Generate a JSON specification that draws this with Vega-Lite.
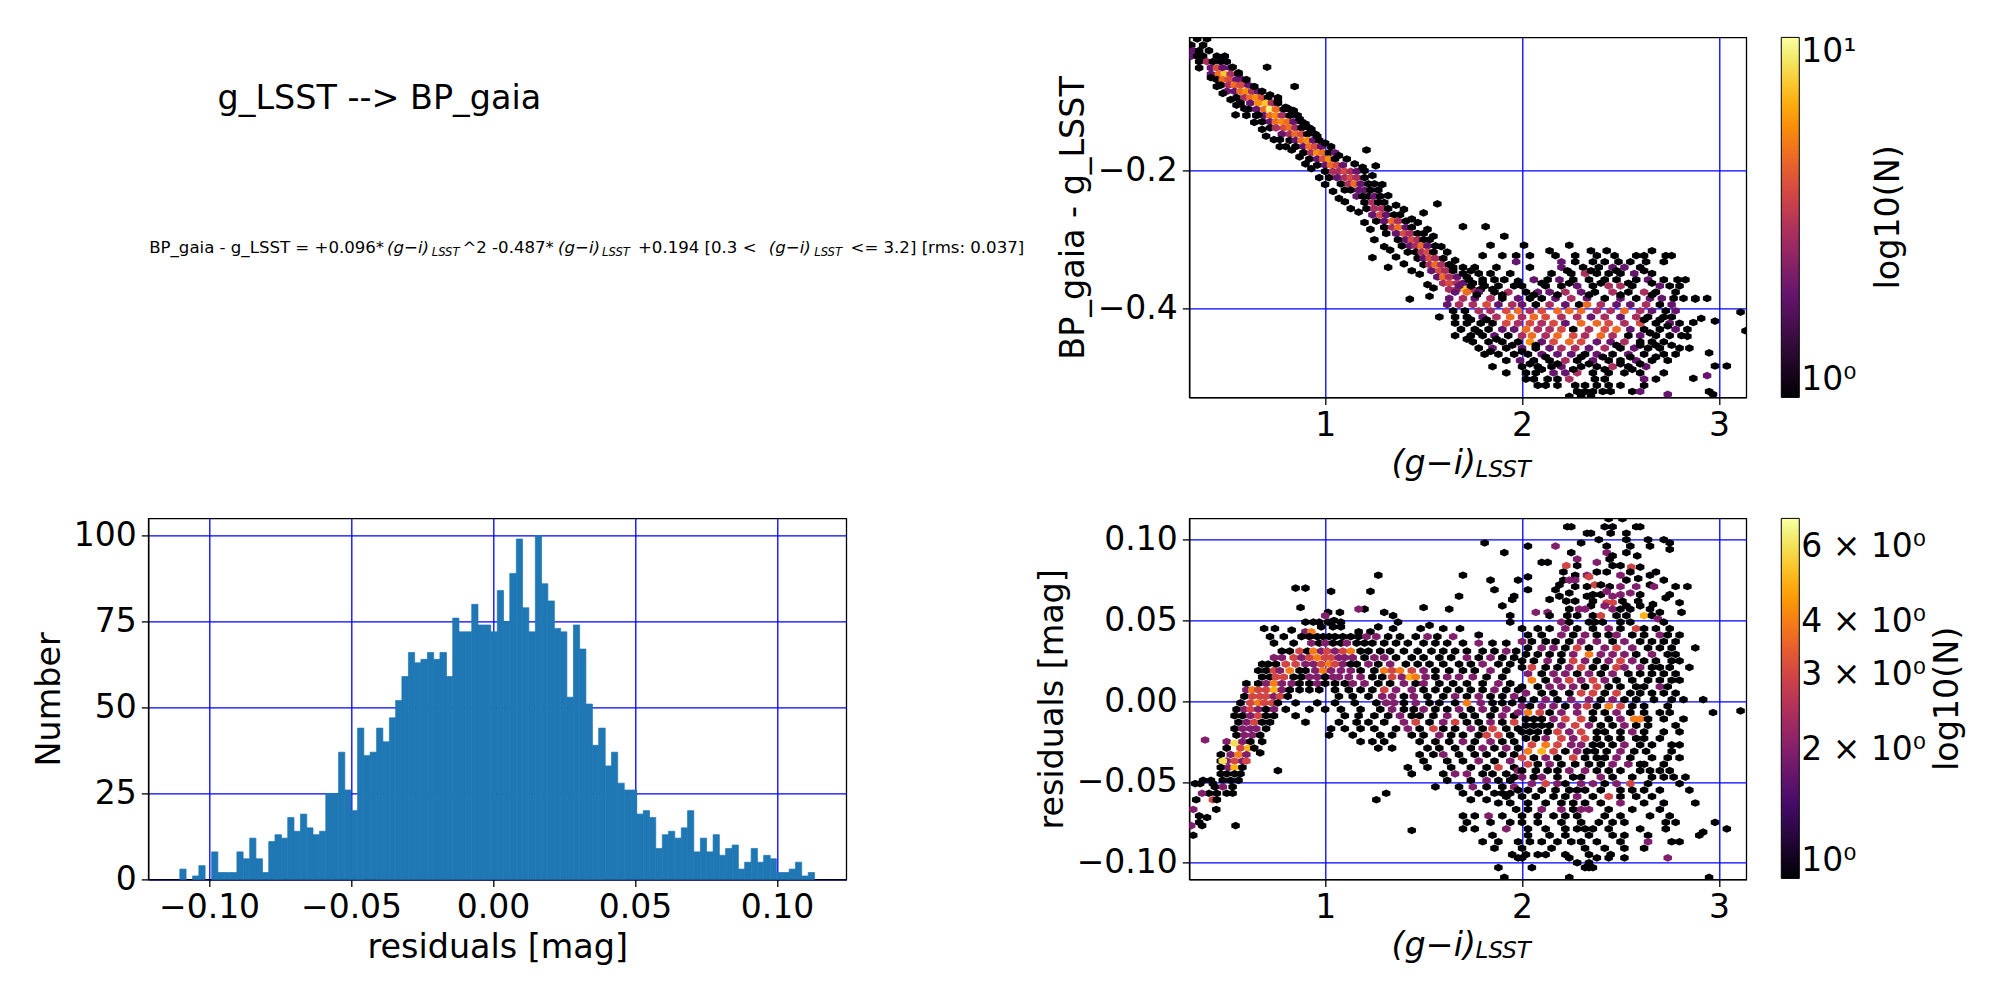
{"$schema":"https://vega.github.io/schema/vega-lite/v6.json","background":"white","padding":{"left":31.3,"top":36.4,"right":0,"bottom":0},"bounds":"flush","columns":2,"spacing":{"row":121,"column":343},"config":{"font":"DejaVu Sans","view":{"stroke":"black","strokeWidth":1.3},"axis":{"labelFontSize":33,"titleFontSize":33.4,"titleFontWeight":"normal","labelColor":"black","titleColor":"black","tickColor":"black","tickSize":7,"tickWidth":1.3,"domainColor":"black","domainWidth":1.3,"grid":true,"gridColor":"#0000ff","gridWidth":1.3,"gridOpacity":1,"labelPadding":5,"titlePadding":7,"zindex":1,"labelFlush":false,"labelOverlap":false},"legend":{"labelFontSize":33,"labelColor":"black","gradientLength":360,"gradientThickness":18,"gradientStrokeColor":"black","gradientStrokeWidth":1,"labelOverlap":false,"offset":35,"labelOffset":8}},"resolve":{"scale":{"color":"independent"}},"concat":[{"width":698,"height":360,"view":{"stroke":null},"data":{"values":[{"label":"g_LSST --> BP_gaia"}]},"encoding":{"y":{"datum":0.4008,"scale":{"domain":[0,1]},"axis":null}},"layer":[{"mark":{"type":"text","fontSize":33.4,"align":"center","baseline":"alphabetic","clip":false},"encoding":{"x":{"datum":0.331,"scale":{"domain":[0,1]},"axis":null},"y":{"datum":0.8,"scale":{"domain":[0,1]},"axis":null},"text":{"field":"label"}}},{"mark":{"type":"text","fontSize":16.6,"align":"left","baseline":"alphabetic","clip":false},"encoding":{"x":{"datum":0.0013,"scale":{"domain":[0,1]},"axis":null},"text":{"value":"BP_gaia - g_LSST = +0.096*"}}},{"mark":{"type":"text","fontSize":16.6,"fontStyle":"italic","align":"left","baseline":"alphabetic","clip":false},"encoding":{"x":{"datum":0.342,"scale":{"domain":[0,1]},"axis":null},"text":{"value":"(g−i)"}}},{"mark":{"type":"text","fontSize":11.6,"fontStyle":"italic","align":"left","baseline":"alphabetic","dy":2.5,"clip":false},"encoding":{"x":{"datum":0.406,"scale":{"domain":[0,1]},"axis":null},"text":{"value":"LSST"}}},{"mark":{"type":"text","fontSize":16.6,"align":"left","baseline":"alphabetic","clip":false},"encoding":{"x":{"datum":0.45,"scale":{"domain":[0,1]},"axis":null},"text":{"value":"^2 -0.487*"}}},{"mark":{"type":"text","fontSize":16.6,"fontStyle":"italic","align":"left","baseline":"alphabetic","clip":false},"encoding":{"x":{"datum":0.587,"scale":{"domain":[0,1]},"axis":null},"text":{"value":"(g−i)"}}},{"mark":{"type":"text","fontSize":11.6,"fontStyle":"italic","align":"left","baseline":"alphabetic","dy":2.5,"clip":false},"encoding":{"x":{"datum":0.65,"scale":{"domain":[0,1]},"axis":null},"text":{"value":"LSST"}}},{"mark":{"type":"text","fontSize":16.6,"align":"left","baseline":"alphabetic","clip":false},"encoding":{"x":{"datum":0.7015,"scale":{"domain":[0,1]},"axis":null},"text":{"value":"+0.194  [0.3 <"}}},{"mark":{"type":"text","fontSize":16.6,"fontStyle":"italic","align":"left","baseline":"alphabetic","clip":false},"encoding":{"x":{"datum":0.889,"scale":{"domain":[0,1]},"axis":null},"text":{"value":"(g−i)"}}},{"mark":{"type":"text","fontSize":11.6,"fontStyle":"italic","align":"left","baseline":"alphabetic","dy":2.5,"clip":false},"encoding":{"x":{"datum":0.954,"scale":{"domain":[0,1]},"axis":null},"text":{"value":"LSST"}}},{"mark":{"type":"text","fontSize":16.6,"align":"left","baseline":"alphabetic","clip":false},"encoding":{"x":{"datum":1.006,"scale":{"domain":[0,1]},"axis":null},"text":{"value":"<= 3.2]  [rms: 0.037]"}}}]},{"width":557,"height":360,"layer":[{"data":{"values":[{"x":0.35,"y":-0.009,"n":1},{"x":0.4,"y":-0.009,"n":1},{"x":0.32,"y":-0.018,"n":1},{"x":0.38,"y":-0.018,"n":1},{"x":0.33,"y":-0.026,"n":2},{"x":0.36,"y":-0.026,"n":1},{"x":0.41,"y":-0.026,"n":1},{"x":0.32,"y":-0.034,"n":2},{"x":0.35,"y":-0.034,"n":1},{"x":0.38,"y":-0.034,"n":1},{"x":0.45,"y":-0.034,"n":1},{"x":0.49,"y":-0.034,"n":1},{"x":0.36,"y":-0.042,"n":1},{"x":0.4,"y":-0.042,"n":3},{"x":0.43,"y":-0.042,"n":1},{"x":0.47,"y":-0.042,"n":1},{"x":0.5,"y":-0.042,"n":1},{"x":0.36,"y":-0.051,"n":1},{"x":0.42,"y":-0.051,"n":2},{"x":0.45,"y":-0.051,"n":4},{"x":0.48,"y":-0.051,"n":2},{"x":0.52,"y":-0.051,"n":2},{"x":0.42,"y":-0.06,"n":2},{"x":0.46,"y":-0.06,"n":5},{"x":0.49,"y":-0.06,"n":8},{"x":0.52,"y":-0.06,"n":3},{"x":0.56,"y":-0.06,"n":1},{"x":0.45,"y":-0.068,"n":1},{"x":0.48,"y":-0.068,"n":5},{"x":0.51,"y":-0.068,"n":4},{"x":0.55,"y":-0.068,"n":2},{"x":0.58,"y":-0.068,"n":2},{"x":0.47,"y":-0.076,"n":1},{"x":0.51,"y":-0.076,"n":3},{"x":0.54,"y":-0.076,"n":5},{"x":0.57,"y":-0.076,"n":4},{"x":0.61,"y":-0.076,"n":2},{"x":0.5,"y":-0.085,"n":2},{"x":0.54,"y":-0.085,"n":2},{"x":0.57,"y":-0.085,"n":5},{"x":0.6,"y":-0.085,"n":6},{"x":0.63,"y":-0.085,"n":3},{"x":0.66,"y":-0.085,"n":2},{"x":0.55,"y":-0.094,"n":1},{"x":0.59,"y":-0.094,"n":3},{"x":0.62,"y":-0.094,"n":5},{"x":0.65,"y":-0.094,"n":6},{"x":0.68,"y":-0.094,"n":4},{"x":0.71,"y":-0.094,"n":1},{"x":0.76,"y":-0.094,"n":1},{"x":0.57,"y":-0.102,"n":1},{"x":0.62,"y":-0.102,"n":2},{"x":0.66,"y":-0.102,"n":6},{"x":0.7,"y":-0.102,"n":8},{"x":0.73,"y":-0.102,"n":3},{"x":0.76,"y":-0.102,"n":1},{"x":0.61,"y":-0.111,"n":1},{"x":0.65,"y":-0.111,"n":2},{"x":0.69,"y":-0.111,"n":5},{"x":0.72,"y":-0.111,"n":10},{"x":0.75,"y":-0.111,"n":5},{"x":0.79,"y":-0.111,"n":1},{"x":0.82,"y":-0.111,"n":1},{"x":0.65,"y":-0.12,"n":1},{"x":0.69,"y":-0.12,"n":2},{"x":0.72,"y":-0.12,"n":5},{"x":0.75,"y":-0.12,"n":6},{"x":0.78,"y":-0.12,"n":3},{"x":0.82,"y":-0.12,"n":1},{"x":0.86,"y":-0.12,"n":1},{"x":0.68,"y":-0.129,"n":1},{"x":0.72,"y":-0.129,"n":2},{"x":0.75,"y":-0.129,"n":5},{"x":0.78,"y":-0.129,"n":6},{"x":0.81,"y":-0.129,"n":5},{"x":0.84,"y":-0.129,"n":2},{"x":0.88,"y":-0.129,"n":1},{"x":0.72,"y":-0.138,"n":1},{"x":0.75,"y":-0.138,"n":3},{"x":0.79,"y":-0.138,"n":4},{"x":0.82,"y":-0.138,"n":5},{"x":0.85,"y":-0.138,"n":3},{"x":0.88,"y":-0.138,"n":1},{"x":0.92,"y":-0.138,"n":1},{"x":0.78,"y":-0.147,"n":2},{"x":0.82,"y":-0.147,"n":3},{"x":0.85,"y":-0.147,"n":5},{"x":0.88,"y":-0.147,"n":4},{"x":0.91,"y":-0.147,"n":1},{"x":0.95,"y":-0.147,"n":1},{"x":0.82,"y":-0.156,"n":1},{"x":0.85,"y":-0.156,"n":2},{"x":0.88,"y":-0.156,"n":5},{"x":0.91,"y":-0.156,"n":6},{"x":0.94,"y":-0.156,"n":2},{"x":0.97,"y":-0.156,"n":1},{"x":0.85,"y":-0.165,"n":1},{"x":0.89,"y":-0.165,"n":2},{"x":0.92,"y":-0.165,"n":5},{"x":0.95,"y":-0.165,"n":4},{"x":0.98,"y":-0.165,"n":2},{"x":0.89,"y":-0.174,"n":1},{"x":0.93,"y":-0.174,"n":3},{"x":0.96,"y":-0.174,"n":6},{"x":0.99,"y":-0.174,"n":5},{"x":1.02,"y":-0.174,"n":1},{"x":1.05,"y":-0.174,"n":2},{"x":0.92,"y":-0.183,"n":1},{"x":0.96,"y":-0.183,"n":2},{"x":0.99,"y":-0.183,"n":4},{"x":1.02,"y":-0.183,"n":6},{"x":1.05,"y":-0.183,"n":1},{"x":0.96,"y":-0.192,"n":1},{"x":1.0,"y":-0.192,"n":2},{"x":1.03,"y":-0.192,"n":5},{"x":1.06,"y":-0.192,"n":4},{"x":1.09,"y":-0.192,"n":2},{"x":1.0,"y":-0.201,"n":1},{"x":1.04,"y":-0.201,"n":3},{"x":1.07,"y":-0.201,"n":3},{"x":1.1,"y":-0.201,"n":4},{"x":1.13,"y":-0.201,"n":3},{"x":1.16,"y":-0.201,"n":2},{"x":1.02,"y":-0.21,"n":1},{"x":1.06,"y":-0.21,"n":2},{"x":1.1,"y":-0.21,"n":3},{"x":1.13,"y":-0.21,"n":4},{"x":1.16,"y":-0.21,"n":3},{"x":1.2,"y":-0.21,"n":1},{"x":1.08,"y":-0.219,"n":1},{"x":1.12,"y":-0.219,"n":3},{"x":1.15,"y":-0.219,"n":5},{"x":1.18,"y":-0.219,"n":2},{"x":1.22,"y":-0.219,"n":1},{"x":1.25,"y":-0.219,"n":1},{"x":1.1,"y":-0.228,"n":1},{"x":1.13,"y":-0.228,"n":1},{"x":1.17,"y":-0.228,"n":2},{"x":1.2,"y":-0.228,"n":2},{"x":1.23,"y":-0.228,"n":1},{"x":1.27,"y":-0.228,"n":1},{"x":1.16,"y":-0.237,"n":2},{"x":1.19,"y":-0.237,"n":1},{"x":1.22,"y":-0.237,"n":1},{"x":1.25,"y":-0.237,"n":2},{"x":1.28,"y":-0.237,"n":1},{"x":1.2,"y":-0.246,"n":1},{"x":1.24,"y":-0.246,"n":3},{"x":1.27,"y":-0.246,"n":1},{"x":1.3,"y":-0.246,"n":1},{"x":1.21,"y":-0.255,"n":1},{"x":1.25,"y":-0.255,"n":3},{"x":1.29,"y":-0.255,"n":3},{"x":1.32,"y":-0.255,"n":1},{"x":1.24,"y":-0.264,"n":2},{"x":1.28,"y":-0.264,"n":4},{"x":1.31,"y":-0.264,"n":2},{"x":1.35,"y":-0.264,"n":1},{"x":1.38,"y":-0.264,"n":1},{"x":1.26,"y":-0.273,"n":1},{"x":1.3,"y":-0.273,"n":2},{"x":1.34,"y":-0.273,"n":5},{"x":1.37,"y":-0.273,"n":3},{"x":1.41,"y":-0.273,"n":1},{"x":1.3,"y":-0.282,"n":1},{"x":1.34,"y":-0.282,"n":3},{"x":1.37,"y":-0.282,"n":5},{"x":1.41,"y":-0.282,"n":2},{"x":1.44,"y":-0.282,"n":1},{"x":1.31,"y":-0.291,"n":1},{"x":1.36,"y":-0.291,"n":2},{"x":1.4,"y":-0.291,"n":4},{"x":1.43,"y":-0.291,"n":3},{"x":1.47,"y":-0.291,"n":1},{"x":1.5,"y":-0.291,"n":1},{"x":1.37,"y":-0.3,"n":1},{"x":1.41,"y":-0.3,"n":2},{"x":1.44,"y":-0.3,"n":4},{"x":1.47,"y":-0.3,"n":3},{"x":1.5,"y":-0.3,"n":1},{"x":1.53,"y":-0.3,"n":1},{"x":1.39,"y":-0.309,"n":1},{"x":1.43,"y":-0.309,"n":2},{"x":1.46,"y":-0.309,"n":3},{"x":1.49,"y":-0.309,"n":5},{"x":1.52,"y":-0.309,"n":2},{"x":1.56,"y":-0.309,"n":1},{"x":1.42,"y":-0.318,"n":1},{"x":1.46,"y":-0.318,"n":1},{"x":1.49,"y":-0.318,"n":3},{"x":1.52,"y":-0.318,"n":4},{"x":1.55,"y":-0.318,"n":1},{"x":1.47,"y":-0.327,"n":1},{"x":1.5,"y":-0.327,"n":2},{"x":1.53,"y":-0.327,"n":4},{"x":1.56,"y":-0.327,"n":3},{"x":1.6,"y":-0.327,"n":1},{"x":1.5,"y":-0.336,"n":1},{"x":1.53,"y":-0.336,"n":3},{"x":1.56,"y":-0.336,"n":5},{"x":1.59,"y":-0.336,"n":3},{"x":1.63,"y":-0.336,"n":1},{"x":1.54,"y":-0.345,"n":2},{"x":1.58,"y":-0.345,"n":4},{"x":1.61,"y":-0.345,"n":3},{"x":1.65,"y":-0.345,"n":1},{"x":1.57,"y":-0.354,"n":2},{"x":1.6,"y":-0.354,"n":5},{"x":1.63,"y":-0.354,"n":3},{"x":1.67,"y":-0.354,"n":2},{"x":1.72,"y":-0.354,"n":1},{"x":1.6,"y":-0.363,"n":3},{"x":1.63,"y":-0.363,"n":4},{"x":1.67,"y":-0.363,"n":3},{"x":1.7,"y":-0.363,"n":2},{"x":1.75,"y":-0.363,"n":1},{"x":1.8,"y":-0.363,"n":1},{"x":1.63,"y":-0.372,"n":3},{"x":1.67,"y":-0.372,"n":3},{"x":1.71,"y":-0.372,"n":8},{"x":1.75,"y":-0.372,"n":3},{"x":1.79,"y":-0.372,"n":1},{"x":1.85,"y":-0.372,"n":1},{"x":0.53,"y":-0.05,"n":1},{"x":0.56,"y":-0.058,"n":1},{"x":0.6,"y":-0.068,"n":1},{"x":0.64,"y":-0.078,"n":1},{"x":0.68,"y":-0.085,"n":1},{"x":0.72,"y":-0.09,"n":1},{"x":0.76,"y":-0.1,"n":1},{"x":0.8,"y":-0.108,"n":1},{"x":0.84,"y":-0.113,"n":1},{"x":0.87,"y":-0.125,"n":1},{"x":0.9,"y":-0.132,"n":1},{"x":0.93,"y":-0.14,"n":1},{"x":0.96,"y":-0.15,"n":1},{"x":1.0,"y":-0.16,"n":1},{"x":1.03,"y":-0.165,"n":1},{"x":1.07,"y":-0.178,"n":1},{"x":1.11,"y":-0.183,"n":1},{"x":1.15,"y":-0.19,"n":1},{"x":1.19,"y":-0.195,"n":1},{"x":1.2,"y":-0.2,"n":1},{"x":1.24,"y":-0.207,"n":1},{"x":1.29,"y":-0.22,"n":1},{"x":1.32,"y":-0.236,"n":1},{"x":1.36,"y":-0.25,"n":1},{"x":1.4,"y":-0.256,"n":1},{"x":1.44,"y":-0.27,"n":1},{"x":1.47,"y":-0.275,"n":1},{"x":1.52,"y":-0.285,"n":1},{"x":1.55,"y":-0.295,"n":1},{"x":1.59,"y":-0.31,"n":1},{"x":1.62,"y":-0.318,"n":1},{"x":1.66,"y":-0.33,"n":1},{"x":1.7,"y":-0.34,"n":1},{"x":1.74,"y":-0.345,"n":1},{"x":0.42,"y":-0.065,"n":1},{"x":0.45,"y":-0.078,"n":1},{"x":0.48,"y":-0.088,"n":1},{"x":0.52,"y":-0.097,"n":1},{"x":0.55,"y":-0.105,"n":1},{"x":0.59,"y":-0.11,"n":1},{"x":0.6,"y":-0.12,"n":1},{"x":0.64,"y":-0.13,"n":1},{"x":0.68,"y":-0.14,"n":1},{"x":0.7,"y":-0.15,"n":1},{"x":0.74,"y":-0.155,"n":1},{"x":0.77,"y":-0.155,"n":1},{"x":0.8,"y":-0.165,"n":1},{"x":0.83,"y":-0.17,"n":1},{"x":0.87,"y":-0.18,"n":1},{"x":0.9,"y":-0.19,"n":1},{"x":0.93,"y":-0.197,"n":1},{"x":0.97,"y":-0.21,"n":1},{"x":1.0,"y":-0.22,"n":1},{"x":1.04,"y":-0.23,"n":1},{"x":1.07,"y":-0.24,"n":1},{"x":1.1,"y":-0.245,"n":1},{"x":1.13,"y":-0.255,"n":1},{"x":1.17,"y":-0.26,"n":1},{"x":1.2,"y":-0.275,"n":1},{"x":1.23,"y":-0.285,"n":1},{"x":1.25,"y":-0.3,"n":1},{"x":1.3,"y":-0.31,"n":1},{"x":1.33,"y":-0.315,"n":1},{"x":1.36,"y":-0.325,"n":1},{"x":1.4,"y":-0.335,"n":1},{"x":1.44,"y":-0.345,"n":1},{"x":1.48,"y":-0.35,"n":1},{"x":1.52,"y":-0.365,"n":1},{"x":1.55,"y":-0.37,"n":1},{"x":1.84,"y":-0.308,"n":1},{"x":2.01,"y":-0.308,"n":1},{"x":2.24,"y":-0.308,"n":1},{"x":2.14,"y":-0.316,"n":1},{"x":2.35,"y":-0.316,"n":1},{"x":2.43,"y":-0.316,"n":1},{"x":2.66,"y":-0.316,"n":1},{"x":1.8,"y":-0.323,"n":1},{"x":1.9,"y":-0.323,"n":1},{"x":1.97,"y":-0.323,"n":1},{"x":2.04,"y":-0.323,"n":1},{"x":2.17,"y":-0.323,"n":1},{"x":2.27,"y":-0.323,"n":1},{"x":2.38,"y":-0.323,"n":1},{"x":2.47,"y":-0.323,"n":1},{"x":2.58,"y":-0.323,"n":1},{"x":2.62,"y":-0.323,"n":1},{"x":2.73,"y":-0.323,"n":1},{"x":2.76,"y":-0.323,"n":1},{"x":1.97,"y":-0.332,"n":2},{"x":2.2,"y":-0.332,"n":2},{"x":2.27,"y":-0.332,"n":1},{"x":2.36,"y":-0.332,"n":1},{"x":2.42,"y":-0.332,"n":1},{"x":2.49,"y":-0.332,"n":1},{"x":2.55,"y":-0.332,"n":1},{"x":2.63,"y":-0.332,"n":1},{"x":2.72,"y":-0.332,"n":1},{"x":1.65,"y":-0.34,"n":1},{"x":1.76,"y":-0.34,"n":1},{"x":1.87,"y":-0.34,"n":1},{"x":2.04,"y":-0.34,"n":1},{"x":2.2,"y":-0.34,"n":2},{"x":2.31,"y":-0.34,"n":1},{"x":2.39,"y":-0.34,"n":1},{"x":2.46,"y":-0.34,"n":2},{"x":2.52,"y":-0.34,"n":2},{"x":2.6,"y":-0.34,"n":1},{"x":1.7,"y":-0.349,"n":1},{"x":1.78,"y":-0.349,"n":1},{"x":1.84,"y":-0.349,"n":1},{"x":1.94,"y":-0.349,"n":1},{"x":2.15,"y":-0.349,"n":1},{"x":2.25,"y":-0.349,"n":1},{"x":2.32,"y":-0.349,"n":3},{"x":2.38,"y":-0.349,"n":1},{"x":2.44,"y":-0.349,"n":1},{"x":2.5,"y":-0.349,"n":1},{"x":2.57,"y":-0.349,"n":2},{"x":2.66,"y":-0.349,"n":1},{"x":1.73,"y":-0.358,"n":1},{"x":1.8,"y":-0.358,"n":1},{"x":1.86,"y":-0.358,"n":1},{"x":1.91,"y":-0.358,"n":1},{"x":2.06,"y":-0.358,"n":2},{"x":2.13,"y":-0.358,"n":1},{"x":2.19,"y":-0.358,"n":2},{"x":2.26,"y":-0.358,"n":1},{"x":2.34,"y":-0.358,"n":1},{"x":2.42,"y":-0.358,"n":1},{"x":2.48,"y":-0.358,"n":1},{"x":2.58,"y":-0.358,"n":1},{"x":2.64,"y":-0.358,"n":2},{"x":2.72,"y":-0.358,"n":1},{"x":2.79,"y":-0.358,"n":1},{"x":2.83,"y":-0.358,"n":1},{"x":1.68,"y":-0.367,"n":2},{"x":1.74,"y":-0.367,"n":1},{"x":1.81,"y":-0.367,"n":1},{"x":1.88,"y":-0.367,"n":1},{"x":1.96,"y":-0.367,"n":1},{"x":2.0,"y":-0.367,"n":1},{"x":2.12,"y":-0.367,"n":1},{"x":2.2,"y":-0.367,"n":1},{"x":2.28,"y":-0.367,"n":2},{"x":2.36,"y":-0.367,"n":1},{"x":2.44,"y":-0.367,"n":3},{"x":2.5,"y":-0.367,"n":3},{"x":2.56,"y":-0.367,"n":1},{"x":2.7,"y":-0.367,"n":2},{"x":2.75,"y":-0.367,"n":1},{"x":2.8,"y":-0.367,"n":1},{"x":1.66,"y":-0.376,"n":2},{"x":1.72,"y":-0.376,"n":5},{"x":1.78,"y":-0.376,"n":2},{"x":1.86,"y":-0.376,"n":1},{"x":1.93,"y":-0.376,"n":3},{"x":2.02,"y":-0.376,"n":1},{"x":2.08,"y":-0.376,"n":2},{"x":2.14,"y":-0.376,"n":2},{"x":2.22,"y":-0.376,"n":3},{"x":2.3,"y":-0.376,"n":2},{"x":2.37,"y":-0.376,"n":1},{"x":2.46,"y":-0.376,"n":3},{"x":2.54,"y":-0.376,"n":1},{"x":2.62,"y":-0.376,"n":3},{"x":2.68,"y":-0.376,"n":1},{"x":2.78,"y":-0.376,"n":1},{"x":1.63,"y":-0.385,"n":2},{"x":1.7,"y":-0.385,"n":3},{"x":1.76,"y":-0.385,"n":2},{"x":1.84,"y":-0.385,"n":3},{"x":1.9,"y":-0.385,"n":1},{"x":1.98,"y":-0.385,"n":2},{"x":2.04,"y":-0.385,"n":1},{"x":2.1,"y":-0.385,"n":1},{"x":2.17,"y":-0.385,"n":2},{"x":2.25,"y":-0.385,"n":3},{"x":2.33,"y":-0.385,"n":2},{"x":2.42,"y":-0.385,"n":1},{"x":2.5,"y":-0.385,"n":2},{"x":2.58,"y":-0.385,"n":1},{"x":2.65,"y":-0.385,"n":2},{"x":2.71,"y":-0.385,"n":2},{"x":2.77,"y":-0.385,"n":1},{"x":2.82,"y":-0.385,"n":1},{"x":2.88,"y":-0.385,"n":1},{"x":2.94,"y":-0.385,"n":1},{"x":1.62,"y":-0.394,"n":2},{"x":1.68,"y":-0.394,"n":3},{"x":1.75,"y":-0.394,"n":3},{"x":1.82,"y":-0.394,"n":4},{"x":1.88,"y":-0.394,"n":2},{"x":1.95,"y":-0.394,"n":3},{"x":2.0,"y":-0.394,"n":2},{"x":2.07,"y":-0.394,"n":1},{"x":2.14,"y":-0.394,"n":3},{"x":2.22,"y":-0.394,"n":2},{"x":2.29,"y":-0.394,"n":1},{"x":2.33,"y":-0.394,"n":5},{"x":2.4,"y":-0.394,"n":3},{"x":2.48,"y":-0.394,"n":2},{"x":2.55,"y":-0.394,"n":2},{"x":2.63,"y":-0.394,"n":3},{"x":2.7,"y":-0.394,"n":1},{"x":2.76,"y":-0.394,"n":2},{"x":1.65,"y":-0.403,"n":1},{"x":1.71,"y":-0.403,"n":1},{"x":1.78,"y":-0.403,"n":3},{"x":1.84,"y":-0.403,"n":3},{"x":1.92,"y":-0.403,"n":4},{"x":1.98,"y":-0.403,"n":5},{"x":2.04,"y":-0.403,"n":3},{"x":2.1,"y":-0.403,"n":4},{"x":2.18,"y":-0.403,"n":5},{"x":2.24,"y":-0.403,"n":5},{"x":2.3,"y":-0.403,"n":5},{"x":2.38,"y":-0.403,"n":3},{"x":2.45,"y":-0.403,"n":3},{"x":2.52,"y":-0.403,"n":5},{"x":2.6,"y":-0.403,"n":3},{"x":2.66,"y":-0.403,"n":2},{"x":2.73,"y":-0.403,"n":1},{"x":2.78,"y":-0.403,"n":2},{"x":3.11,"y":-0.405,"n":1},{"x":1.58,"y":-0.412,"n":1},{"x":1.66,"y":-0.412,"n":1},{"x":1.72,"y":-0.412,"n":1},{"x":1.8,"y":-0.412,"n":2},{"x":1.87,"y":-0.412,"n":3},{"x":1.94,"y":-0.412,"n":5},{"x":2.0,"y":-0.412,"n":3},{"x":2.06,"y":-0.412,"n":5},{"x":2.12,"y":-0.412,"n":4},{"x":2.2,"y":-0.412,"n":3},{"x":2.28,"y":-0.412,"n":3},{"x":2.35,"y":-0.412,"n":2},{"x":2.42,"y":-0.412,"n":3},{"x":2.5,"y":-0.412,"n":2},{"x":2.58,"y":-0.412,"n":3},{"x":2.64,"y":-0.412,"n":1},{"x":2.72,"y":-0.412,"n":1},{"x":2.76,"y":-0.412,"n":1},{"x":2.91,"y":-0.414,"n":1},{"x":1.66,"y":-0.421,"n":1},{"x":1.72,"y":-0.421,"n":1},{"x":1.79,"y":-0.421,"n":1},{"x":1.85,"y":-0.421,"n":1},{"x":1.92,"y":-0.421,"n":4},{"x":1.98,"y":-0.421,"n":3},{"x":2.04,"y":-0.421,"n":4},{"x":2.1,"y":-0.421,"n":3},{"x":2.16,"y":-0.421,"n":4},{"x":2.22,"y":-0.421,"n":2},{"x":2.3,"y":-0.421,"n":5},{"x":2.38,"y":-0.421,"n":5},{"x":2.44,"y":-0.421,"n":4},{"x":2.52,"y":-0.421,"n":3},{"x":2.6,"y":-0.421,"n":4},{"x":2.68,"y":-0.421,"n":1},{"x":2.75,"y":-0.421,"n":2},{"x":2.8,"y":-0.421,"n":1},{"x":2.98,"y":-0.418,"n":1},{"x":1.69,"y":-0.43,"n":1},{"x":1.76,"y":-0.43,"n":1},{"x":1.83,"y":-0.43,"n":1},{"x":1.9,"y":-0.43,"n":2},{"x":1.96,"y":-0.43,"n":2},{"x":2.02,"y":-0.43,"n":5},{"x":2.08,"y":-0.43,"n":3},{"x":2.14,"y":-0.43,"n":3},{"x":2.2,"y":-0.43,"n":4},{"x":2.26,"y":-0.43,"n":1},{"x":2.34,"y":-0.43,"n":3},{"x":2.42,"y":-0.43,"n":4},{"x":2.48,"y":-0.43,"n":5},{"x":2.55,"y":-0.43,"n":2},{"x":2.62,"y":-0.43,"n":1},{"x":2.7,"y":-0.43,"n":1},{"x":2.78,"y":-0.43,"n":2},{"x":2.84,"y":-0.43,"n":1},{"x":3.135,"y":-0.432,"n":1},{"x":1.66,"y":-0.439,"n":1},{"x":1.74,"y":-0.439,"n":1},{"x":1.8,"y":-0.439,"n":1},{"x":1.86,"y":-0.439,"n":2},{"x":1.93,"y":-0.439,"n":1},{"x":2.0,"y":-0.439,"n":3},{"x":2.05,"y":-0.439,"n":5},{"x":2.12,"y":-0.439,"n":3},{"x":2.18,"y":-0.439,"n":5},{"x":2.26,"y":-0.439,"n":4},{"x":2.32,"y":-0.439,"n":3},{"x":2.4,"y":-0.439,"n":5},{"x":2.46,"y":-0.439,"n":3},{"x":2.54,"y":-0.439,"n":1},{"x":2.6,"y":-0.439,"n":2},{"x":2.68,"y":-0.439,"n":1},{"x":2.75,"y":-0.439,"n":1},{"x":2.81,"y":-0.439,"n":1},{"x":1.75,"y":-0.448,"n":1},{"x":1.83,"y":-0.448,"n":1},{"x":1.9,"y":-0.448,"n":1},{"x":1.98,"y":-0.448,"n":1},{"x":2.04,"y":-0.448,"n":6},{"x":2.1,"y":-0.448,"n":2},{"x":2.16,"y":-0.448,"n":4},{"x":2.24,"y":-0.448,"n":5},{"x":2.3,"y":-0.448,"n":4},{"x":2.38,"y":-0.448,"n":2},{"x":2.45,"y":-0.448,"n":2},{"x":2.52,"y":-0.448,"n":3},{"x":2.6,"y":-0.448,"n":1},{"x":2.66,"y":-0.448,"n":1},{"x":2.72,"y":-0.448,"n":1},{"x":1.78,"y":-0.457,"n":1},{"x":1.85,"y":-0.457,"n":2},{"x":1.92,"y":-0.457,"n":1},{"x":2.0,"y":-0.457,"n":2},{"x":2.07,"y":-0.457,"n":1},{"x":2.14,"y":-0.457,"n":2},{"x":2.2,"y":-0.457,"n":3},{"x":2.27,"y":-0.457,"n":3},{"x":2.34,"y":-0.457,"n":2},{"x":2.42,"y":-0.457,"n":3},{"x":2.5,"y":-0.457,"n":1},{"x":2.57,"y":-0.457,"n":2},{"x":2.64,"y":-0.457,"n":1},{"x":2.7,"y":-0.457,"n":1},{"x":2.8,"y":-0.457,"n":1},{"x":2.85,"y":-0.457,"n":1},{"x":1.81,"y":-0.466,"n":1},{"x":1.88,"y":-0.466,"n":1},{"x":1.96,"y":-0.466,"n":1},{"x":2.03,"y":-0.466,"n":1},{"x":2.1,"y":-0.466,"n":2},{"x":2.18,"y":-0.466,"n":2},{"x":2.25,"y":-0.466,"n":2},{"x":2.32,"y":-0.466,"n":1},{"x":2.38,"y":-0.466,"n":2},{"x":2.46,"y":-0.466,"n":1},{"x":2.54,"y":-0.466,"n":2},{"x":2.62,"y":-0.466,"n":1},{"x":2.72,"y":-0.466,"n":1},{"x":2.78,"y":-0.466,"n":1},{"x":2.95,"y":-0.464,"n":1},{"x":1.92,"y":-0.475,"n":1},{"x":1.99,"y":-0.475,"n":2},{"x":2.06,"y":-0.475,"n":1},{"x":2.14,"y":-0.475,"n":1},{"x":2.22,"y":-0.475,"n":3},{"x":2.28,"y":-0.475,"n":1},{"x":2.36,"y":-0.475,"n":2},{"x":2.44,"y":-0.475,"n":1},{"x":2.5,"y":-0.475,"n":1},{"x":2.58,"y":-0.475,"n":2},{"x":2.66,"y":-0.475,"n":1},{"x":2.74,"y":-0.475,"n":1},{"x":1.85,"y":-0.484,"n":1},{"x":2.0,"y":-0.484,"n":1},{"x":2.08,"y":-0.484,"n":1},{"x":2.15,"y":-0.484,"n":1},{"x":2.2,"y":-0.484,"n":2},{"x":2.3,"y":-0.484,"n":1},{"x":2.38,"y":-0.484,"n":1},{"x":2.46,"y":-0.484,"n":3},{"x":2.54,"y":-0.484,"n":1},{"x":2.63,"y":-0.484,"n":2},{"x":2.98,"y":-0.483,"n":1},{"x":3.04,"y":-0.483,"n":1},{"x":1.92,"y":-0.493,"n":1},{"x":2.02,"y":-0.493,"n":1},{"x":2.07,"y":-0.493,"n":1},{"x":2.16,"y":-0.493,"n":2},{"x":2.22,"y":-0.493,"n":2},{"x":2.28,"y":-0.493,"n":3},{"x":2.36,"y":-0.493,"n":1},{"x":2.44,"y":-0.493,"n":1},{"x":2.52,"y":-0.493,"n":1},{"x":2.6,"y":-0.493,"n":1},{"x":2.72,"y":-0.493,"n":1},{"x":2.02,"y":-0.502,"n":1},{"x":2.06,"y":-0.502,"n":1},{"x":2.13,"y":-0.502,"n":1},{"x":2.18,"y":-0.502,"n":1},{"x":2.24,"y":-0.502,"n":3},{"x":2.37,"y":-0.502,"n":1},{"x":2.42,"y":-0.502,"n":1},{"x":2.62,"y":-0.502,"n":2},{"x":2.68,"y":-0.502,"n":1},{"x":2.87,"y":-0.501,"n":1},{"x":2.94,"y":-0.497,"n":2},{"x":2.08,"y":-0.511,"n":1},{"x":2.12,"y":-0.511,"n":1},{"x":2.18,"y":-0.511,"n":1},{"x":2.27,"y":-0.511,"n":1},{"x":2.32,"y":-0.511,"n":1},{"x":2.38,"y":-0.511,"n":1},{"x":2.44,"y":-0.511,"n":1},{"x":2.5,"y":-0.511,"n":1},{"x":2.62,"y":-0.511,"n":1},{"x":2.28,"y":-0.52,"n":1},{"x":2.32,"y":-0.52,"n":1},{"x":2.36,"y":-0.52,"n":1},{"x":2.41,"y":-0.52,"n":1},{"x":2.45,"y":-0.52,"n":1},{"x":2.56,"y":-0.52,"n":1},{"x":2.6,"y":-0.52,"n":2},{"x":2.24,"y":-0.527,"n":1},{"x":2.3,"y":-0.527,"n":1},{"x":2.35,"y":-0.527,"n":1},{"x":2.74,"y":-0.524,"n":2},{"x":2.97,"y":-0.524,"n":1},{"x":1.57,"y":-0.248,"n":1},{"x":1.5,"y":-0.261,"n":1},{"x":1.815,"y":-0.281,"n":1},{"x":1.7,"y":-0.281,"n":1},{"x":1.91,"y":-0.295,"n":1},{"x":1.24,"y":-0.326,"n":1},{"x":1.32,"y":-0.34,"n":1},{"x":1.43,"y":-0.386,"n":1},{"x":1.53,"y":-0.382,"n":1},{"x":0.77,"y":-0.165,"n":1},{"x":0.545,"y":-0.119,"n":1},{"x":0.66,"y":-0.119,"n":1},{"x":0.705,"y":-0.05,"n":1},{"x":0.845,"y":-0.078,"n":1},{"x":1.21,"y":-0.17,"n":1},{"x":1.257,"y":-0.193,"n":1},{"x":2.88,"y":-0.386,"n":1},{"x":2.95,"y":-0.52,"n":1},{"x":2.87,"y":-0.42,"n":1},{"x":2.84,"y":-0.44,"n":1},{"x":1.77,"y":-0.38,"n":1},{"x":1.9,"y":-0.38,"n":1},{"x":2.06,"y":-0.38,"n":1},{"x":2.18,"y":-0.38,"n":1},{"x":2.34,"y":-0.38,"n":1},{"x":2.5,"y":-0.38,"n":1},{"x":2.66,"y":-0.38,"n":1},{"x":1.98,"y":-0.36,"n":1},{"x":2.1,"y":-0.363,"n":1},{"x":2.24,"y":-0.363,"n":1},{"x":2.4,"y":-0.363,"n":1},{"x":2.54,"y":-0.363,"n":1},{"x":2.66,"y":-0.363,"n":1},{"x":2.23,"y":-0.345,"n":1},{"x":2.35,"y":-0.345,"n":1},{"x":2.48,"y":-0.345,"n":1},{"x":2.62,"y":-0.345,"n":1},{"x":1.74,"y":-0.416,"n":1},{"x":1.82,"y":-0.416,"n":1},{"x":2.62,"y":-0.416,"n":1},{"x":2.7,"y":-0.416,"n":1},{"x":2.74,"y":-0.425,"n":1},{"x":2.65,"y":-0.435,"n":1},{"x":1.78,"y":-0.434,"n":1},{"x":1.72,"y":-0.444,"n":1},{"x":1.87,"y":-0.444,"n":1},{"x":1.95,"y":-0.453,"n":1},{"x":2.07,"y":-0.453,"n":1},{"x":2.48,"y":-0.453,"n":1},{"x":2.6,"y":-0.453,"n":1},{"x":2.68,"y":-0.453,"n":1},{"x":2.76,"y":-0.453,"n":1},{"x":1.84,"y":-0.462,"n":1},{"x":2.0,"y":-0.462,"n":1},{"x":2.12,"y":-0.47,"n":1},{"x":2.3,"y":-0.47,"n":1},{"x":2.41,"y":-0.47,"n":1},{"x":2.55,"y":-0.47,"n":1},{"x":2.68,"y":-0.47,"n":1},{"x":2.04,"y":-0.48,"n":1},{"x":2.18,"y":-0.48,"n":1},{"x":2.34,"y":-0.48,"n":1},{"x":2.5,"y":-0.48,"n":1},{"x":2.6,"y":-0.48,"n":1},{"x":2.1,"y":-0.488,"n":1},{"x":2.26,"y":-0.488,"n":1},{"x":2.42,"y":-0.488,"n":1},{"x":2.56,"y":-0.488,"n":1}]},"mark":{"type":"point","shape":"M0,-0.9L1,-0.45L1,0.45L0,0.9L-1,0.45L-1,-0.45Z","filled":true,"size":72,"opacity":1,"clip":true},"encoding":{"x":{"field":"x","type":"quantitative","scale":{"domain":[0.31,3.139],"nice":false,"zero":false},"axis":{"values":[1,2,3],"format":"d","title":"(g−i)","titleFontStyle":"italic","titleX":244,"titleY":76,"titleAlign":"center","titleBaseline":"alphabetic"}},"y":{"field":"y","type":"quantitative","scale":{"domain":[-0.5285,-0.0068],"nice":false,"zero":false},"axis":{"values":[-0.4,-0.2],"format":".1f","title":"BP_gaia - g_LSST"}},"color":{"field":"n","type":"quantitative","scale":{"type":"log","scheme":"inferno","domain":[1,11]},"legend":{"title":null,"values":[1,10],"labelExpr":"datum.value==1?'10⁰':'10¹'","encode":{"labels":{"update":{"baseline":{"value":"middle"}}}}}}}},{"data":{"values":[{"label":"LSST"}]},"mark":{"type":"text","fontSize":23,"fontStyle":"italic","align":"left","baseline":"alphabetic","clip":false},"encoding":{"x":{"datum":1.764},"y":{"datum":-0.6445},"text":{"field":"label"}}},{"data":{"values":[{"label":"log10(N)"}]},"mark":{"type":"text","fontSize":33.4,"angle":270,"align":"center","baseline":"middle","clip":false},"encoding":{"x":{"datum":3.866},"y":{"datum":-0.2676},"text":{"field":"label"}}}]},{"width":698,"height":361,"data":{"values":[{"lo":-0.1103,"hi":-0.1081,"n":3},{"lo":-0.1058,"hi":-0.1036,"n":1},{"lo":-0.1036,"hi":-0.1014,"n":4},{"lo":-0.0991,"hi":-0.0969,"n":8},{"lo":-0.0969,"hi":-0.0947,"n":2},{"lo":-0.0947,"hi":-0.0924,"n":2},{"lo":-0.0924,"hi":-0.0902,"n":2},{"lo":-0.0902,"hi":-0.088,"n":8},{"lo":-0.088,"hi":-0.0857,"n":6},{"lo":-0.0857,"hi":-0.0835,"n":12},{"lo":-0.0835,"hi":-0.0812,"n":6},{"lo":-0.0812,"hi":-0.079,"n":2},{"lo":-0.079,"hi":-0.0768,"n":11},{"lo":-0.0768,"hi":-0.0745,"n":13},{"lo":-0.0745,"hi":-0.0723,"n":12},{"lo":-0.0723,"hi":-0.0701,"n":18},{"lo":-0.0701,"hi":-0.0678,"n":14},{"lo":-0.0678,"hi":-0.0656,"n":19},{"lo":-0.0656,"hi":-0.0634,"n":15},{"lo":-0.0634,"hi":-0.0611,"n":13},{"lo":-0.0611,"hi":-0.0589,"n":14},{"lo":-0.0589,"hi":-0.0567,"n":25},{"lo":-0.0567,"hi":-0.0544,"n":25},{"lo":-0.0544,"hi":-0.0522,"n":37},{"lo":-0.0522,"hi":-0.05,"n":26},{"lo":-0.05,"hi":-0.0477,"n":20},{"lo":-0.0477,"hi":-0.0455,"n":44},{"lo":-0.0455,"hi":-0.0433,"n":36},{"lo":-0.0433,"hi":-0.041,"n":37},{"lo":-0.041,"hi":-0.0388,"n":44},{"lo":-0.0388,"hi":-0.0365,"n":40},{"lo":-0.0365,"hi":-0.0343,"n":47},{"lo":-0.0343,"hi":-0.0321,"n":52},{"lo":-0.0321,"hi":-0.0298,"n":59},{"lo":-0.0298,"hi":-0.0276,"n":66},{"lo":-0.0276,"hi":-0.0254,"n":63},{"lo":-0.0254,"hi":-0.0231,"n":64},{"lo":-0.0231,"hi":-0.0209,"n":66},{"lo":-0.0209,"hi":-0.0187,"n":64},{"lo":-0.0187,"hi":-0.0164,"n":66},{"lo":-0.0164,"hi":-0.0142,"n":59},{"lo":-0.0142,"hi":-0.012,"n":76},{"lo":-0.012,"hi":-0.0097,"n":72},{"lo":-0.0097,"hi":-0.0075,"n":72},{"lo":-0.0075,"hi":-0.0053,"n":80},{"lo":-0.0053,"hi":-0.003,"n":74},{"lo":-0.003,"hi":-0.0008,"n":74},{"lo":-0.0008,"hi":0.0015,"n":72},{"lo":0.0015,"hi":0.0037,"n":84},{"lo":0.0037,"hi":0.0059,"n":75},{"lo":0.0059,"hi":0.0082,"n":89},{"lo":0.0082,"hi":0.0104,"n":99},{"lo":0.0104,"hi":0.0126,"n":79},{"lo":0.0126,"hi":0.0149,"n":72},{"lo":0.0149,"hi":0.0171,"n":100},{"lo":0.0171,"hi":0.0193,"n":86},{"lo":0.0193,"hi":0.0216,"n":81},{"lo":0.0216,"hi":0.0238,"n":73},{"lo":0.0238,"hi":0.026,"n":72},{"lo":0.026,"hi":0.0283,"n":53},{"lo":0.0283,"hi":0.0305,"n":74},{"lo":0.0305,"hi":0.0327,"n":67},{"lo":0.0327,"hi":0.035,"n":51},{"lo":0.035,"hi":0.0372,"n":39},{"lo":0.0372,"hi":0.0395,"n":44},{"lo":0.0395,"hi":0.0417,"n":33},{"lo":0.0417,"hi":0.0439,"n":37},{"lo":0.0439,"hi":0.0462,"n":28},{"lo":0.0462,"hi":0.0484,"n":26},{"lo":0.0484,"hi":0.0506,"n":26},{"lo":0.0506,"hi":0.0529,"n":19},{"lo":0.0529,"hi":0.0551,"n":20},{"lo":0.0551,"hi":0.0573,"n":18},{"lo":0.0573,"hi":0.0596,"n":9},{"lo":0.0596,"hi":0.0618,"n":13},{"lo":0.0618,"hi":0.064,"n":14},{"lo":0.064,"hi":0.0663,"n":12},{"lo":0.0663,"hi":0.0685,"n":15},{"lo":0.0685,"hi":0.0707,"n":20},{"lo":0.0707,"hi":0.073,"n":8},{"lo":0.073,"hi":0.0752,"n":12},{"lo":0.0752,"hi":0.0775,"n":8},{"lo":0.0775,"hi":0.0797,"n":13},{"lo":0.0797,"hi":0.0819,"n":7},{"lo":0.0819,"hi":0.0842,"n":9},{"lo":0.0842,"hi":0.0864,"n":10},{"lo":0.0864,"hi":0.0886,"n":3},{"lo":0.0886,"hi":0.0909,"n":5},{"lo":0.0909,"hi":0.0931,"n":9},{"lo":0.0931,"hi":0.0953,"n":5},{"lo":0.0953,"hi":0.0976,"n":7},{"lo":0.0976,"hi":0.0998,"n":6},{"lo":0.0998,"hi":0.102,"n":2},{"lo":0.102,"hi":0.1043,"n":2},{"lo":0.1043,"hi":0.1065,"n":3},{"lo":0.1065,"hi":0.1087,"n":5},{"lo":0.1087,"hi":0.111,"n":1},{"lo":0.111,"hi":0.1132,"n":2}]},"mark":{"type":"bar","color":"#1f77b4","stroke":"#1f77b4","strokeWidth":0.7},"encoding":{"x":{"field":"lo","type":"quantitative","scale":{"domain":[-0.1214,0.1244],"nice":false,"zero":false},"axis":{"values":[-0.1,-0.05,0,0.05,0.1],"format":".2f","title":"residuals [mag]"}},"x2":{"field":"hi"},"y":{"field":"n","type":"quantitative","scale":{"domain":[0,105],"nice":false},"axis":{"values":[0,25,50,75,100],"title":"Number"}},"y2":{"datum":0}}},{"width":557,"height":361,"layer":[{"data":{"values":[{"x":2.44,"y":0.113,"n":1},{"x":2.51,"y":0.113,"n":1},{"x":2.23,"y":0.108,"n":1},{"x":2.25,"y":0.108,"n":1},{"x":2.42,"y":0.108,"n":1},{"x":2.46,"y":0.108,"n":1},{"x":2.58,"y":0.108,"n":1},{"x":2.6,"y":0.108,"n":1},{"x":2.33,"y":0.104,"n":1},{"x":2.35,"y":0.104,"n":1},{"x":2.45,"y":0.104,"n":1},{"x":2.53,"y":0.104,"n":1},{"x":2.39,"y":0.1,"n":1},{"x":2.53,"y":0.1,"n":1},{"x":2.64,"y":0.1,"n":1},{"x":2.72,"y":0.1,"n":1},{"x":1.81,"y":0.098,"n":1},{"x":2.03,"y":0.096,"n":1},{"x":2.17,"y":0.096,"n":2},{"x":2.3,"y":0.098,"n":1},{"x":2.43,"y":0.096,"n":1},{"x":2.55,"y":0.096,"n":1},{"x":2.65,"y":0.096,"n":1},{"x":2.75,"y":0.098,"n":1},{"x":2.75,"y":0.094,"n":1},{"x":1.91,"y":0.092,"n":1},{"x":2.25,"y":0.092,"n":1},{"x":2.43,"y":0.092,"n":2},{"x":2.46,"y":0.09,"n":1},{"x":2.53,"y":0.092,"n":1},{"x":2.585,"y":0.09,"n":1},{"x":2.28,"y":0.088,"n":2},{"x":2.445,"y":0.088,"n":1},{"x":2.1,"y":0.086,"n":1},{"x":2.13,"y":0.086,"n":1},{"x":2.225,"y":0.084,"n":3},{"x":2.28,"y":0.084,"n":1},{"x":2.38,"y":0.086,"n":2},{"x":2.46,"y":0.084,"n":1},{"x":2.5,"y":0.084,"n":1},{"x":2.555,"y":0.083,"n":3},{"x":2.6,"y":0.083,"n":1},{"x":2.21,"y":0.08,"n":1},{"x":2.27,"y":0.078,"n":1},{"x":2.33,"y":0.078,"n":2},{"x":2.34,"y":0.077,"n":3},{"x":2.38,"y":0.08,"n":1},{"x":2.43,"y":0.08,"n":1},{"x":2.5,"y":0.078,"n":2},{"x":2.55,"y":0.08,"n":1},{"x":2.68,"y":0.08,"n":1},{"x":2.65,"y":0.078,"n":1},{"x":1.7,"y":0.078,"n":1},{"x":1.27,"y":0.078,"n":1},{"x":1.84,"y":0.075,"n":1},{"x":1.98,"y":0.075,"n":1},{"x":2.03,"y":0.077,"n":1},{"x":2.21,"y":0.075,"n":1},{"x":2.24,"y":0.075,"n":2},{"x":2.27,"y":0.075,"n":2},{"x":2.37,"y":0.072,"n":3},{"x":2.4,"y":0.072,"n":1},{"x":2.53,"y":0.075,"n":1},{"x":2.59,"y":0.076,"n":1},{"x":2.65,"y":0.072,"n":1},{"x":2.72,"y":0.075,"n":1},{"x":1.86,"y":0.069,"n":1},{"x":2.03,"y":0.069,"n":1},{"x":2.19,"y":0.072,"n":1},{"x":2.17,"y":0.069,"n":1},{"x":2.27,"y":0.071,"n":1},{"x":2.33,"y":0.071,"n":1},{"x":2.445,"y":0.071,"n":1},{"x":2.5,"y":0.071,"n":2},{"x":2.58,"y":0.071,"n":2},{"x":2.67,"y":0.071,"n":2},{"x":2.78,"y":0.071,"n":1},{"x":2.84,"y":0.071,"n":1},{"x":0.85,"y":0.07,"n":1},{"x":0.9,"y":0.07,"n":1},{"x":1.03,"y":0.068,"n":1},{"x":1.23,"y":0.068,"n":1},{"x":1.68,"y":0.065,"n":1},{"x":1.96,"y":0.065,"n":1},{"x":2.14,"y":0.063,"n":1},{"x":2.19,"y":0.065,"n":1},{"x":2.24,"y":0.067,"n":1},{"x":2.33,"y":0.065,"n":1},{"x":2.36,"y":0.066,"n":1},{"x":2.4,"y":0.066,"n":1},{"x":2.43,"y":0.068,"n":2},{"x":2.46,"y":0.065,"n":2},{"x":2.5,"y":0.066,"n":2},{"x":2.55,"y":0.067,"n":2},{"x":2.6,"y":0.066,"n":1},{"x":2.75,"y":0.066,"n":1},{"x":1.95,"y":0.063,"n":1},{"x":2.225,"y":0.062,"n":1},{"x":2.27,"y":0.062,"n":1},{"x":2.36,"y":0.062,"n":1},{"x":2.43,"y":0.061,"n":3},{"x":2.46,"y":0.061,"n":3},{"x":2.51,"y":0.062,"n":1},{"x":2.59,"y":0.062,"n":1},{"x":2.73,"y":0.064,"n":1},{"x":1.9,"y":0.059,"n":1},{"x":2.35,"y":0.059,"n":1},{"x":2.42,"y":0.059,"n":2},{"x":2.53,"y":0.059,"n":1},{"x":2.6,"y":0.059,"n":1},{"x":2.665,"y":0.06,"n":1},{"x":2.8,"y":0.061,"n":1},{"x":0.875,"y":0.058,"n":1},{"x":1.5,"y":0.058,"n":1},{"x":1.63,"y":0.057,"n":1},{"x":1.2,"y":0.057,"n":1},{"x":1.17,"y":0.057,"n":2},{"x":2.24,"y":0.057,"n":1},{"x":2.29,"y":0.057,"n":2},{"x":2.32,"y":0.057,"n":2},{"x":2.46,"y":0.057,"n":2},{"x":2.5,"y":0.057,"n":1},{"x":2.55,"y":0.057,"n":1},{"x":2.7,"y":0.055,"n":1},{"x":2.65,"y":0.057,"n":1},{"x":1.015,"y":0.055,"n":1},{"x":1.075,"y":0.055,"n":1},{"x":1.0,"y":0.053,"n":2},{"x":1.3,"y":0.055,"n":1},{"x":1.345,"y":0.053,"n":1},{"x":1.94,"y":0.053,"n":1},{"x":2.07,"y":0.055,"n":2},{"x":2.13,"y":0.055,"n":2},{"x":2.14,"y":0.053,"n":1},{"x":2.23,"y":0.053,"n":1},{"x":2.28,"y":0.053,"n":1},{"x":2.36,"y":0.053,"n":1},{"x":2.4,"y":0.053,"n":3},{"x":2.48,"y":0.053,"n":1},{"x":2.53,"y":0.053,"n":1},{"x":2.62,"y":0.053,"n":5},{"x":2.66,"y":0.053,"n":1},{"x":2.81,"y":0.055,"n":1},{"x":1.045,"y":0.05,"n":1},{"x":1.37,"y":0.049,"n":1},{"x":0.9,"y":0.049,"n":1},{"x":0.94,"y":0.049,"n":1},{"x":0.97,"y":0.049,"n":1},{"x":1.015,"y":0.049,"n":1},{"x":1.08,"y":0.049,"n":1},{"x":1.94,"y":0.049,"n":1},{"x":2.2,"y":0.049,"n":2},{"x":2.24,"y":0.049,"n":1},{"x":2.34,"y":0.049,"n":1},{"x":2.37,"y":0.049,"n":1},{"x":2.41,"y":0.049,"n":1},{"x":2.5,"y":0.049,"n":1},{"x":2.55,"y":0.049,"n":1},{"x":2.69,"y":0.051,"n":2},{"x":2.72,"y":0.049,"n":1},{"x":0.69,"y":0.045,"n":1},{"x":0.745,"y":0.045,"n":1},{"x":0.83,"y":0.044,"n":1},{"x":0.9,"y":0.043,"n":2},{"x":0.93,"y":0.043,"n":4},{"x":0.98,"y":0.046,"n":1},{"x":1.04,"y":0.046,"n":1},{"x":1.08,"y":0.046,"n":1},{"x":1.17,"y":0.043,"n":1},{"x":1.23,"y":0.043,"n":1},{"x":1.27,"y":0.046,"n":1},{"x":1.345,"y":0.045,"n":1},{"x":1.485,"y":0.045,"n":1},{"x":1.53,"y":0.047,"n":1},{"x":1.6,"y":0.045,"n":1},{"x":1.685,"y":0.045,"n":1},{"x":2.0,"y":0.045,"n":1},{"x":2.08,"y":0.045,"n":1},{"x":2.14,"y":0.045,"n":1},{"x":2.22,"y":0.045,"n":2},{"x":2.28,"y":0.045,"n":1},{"x":2.36,"y":0.045,"n":1},{"x":2.44,"y":0.045,"n":2},{"x":2.5,"y":0.045,"n":1},{"x":2.58,"y":0.045,"n":3},{"x":2.62,"y":0.045,"n":1},{"x":2.68,"y":0.045,"n":1},{"x":2.75,"y":0.045,"n":1},{"x":0.72,"y":0.04,"n":1},{"x":0.79,"y":0.04,"n":1},{"x":0.88,"y":0.04,"n":1},{"x":0.92,"y":0.04,"n":1},{"x":0.96,"y":0.04,"n":1},{"x":0.99,"y":0.04,"n":1},{"x":1.02,"y":0.04,"n":1},{"x":1.05,"y":0.04,"n":1},{"x":1.09,"y":0.04,"n":1},{"x":1.13,"y":0.04,"n":1},{"x":1.17,"y":0.04,"n":1},{"x":1.21,"y":0.04,"n":2},{"x":1.26,"y":0.04,"n":2},{"x":1.32,"y":0.04,"n":1},{"x":1.38,"y":0.04,"n":1},{"x":1.46,"y":0.04,"n":1},{"x":1.52,"y":0.04,"n":2},{"x":1.57,"y":0.04,"n":1},{"x":1.65,"y":0.04,"n":2},{"x":1.78,"y":0.041,"n":1},{"x":2.03,"y":0.041,"n":1},{"x":2.1,"y":0.041,"n":1},{"x":2.2,"y":0.041,"n":2},{"x":2.26,"y":0.041,"n":1},{"x":2.32,"y":0.041,"n":2},{"x":2.38,"y":0.041,"n":1},{"x":2.44,"y":0.041,"n":1},{"x":2.48,"y":0.041,"n":2},{"x":2.56,"y":0.041,"n":1},{"x":2.62,"y":0.041,"n":1},{"x":2.7,"y":0.041,"n":2},{"x":2.8,"y":0.041,"n":1},{"x":2.74,"y":0.041,"n":1},{"x":0.74,"y":0.036,"n":1},{"x":0.84,"y":0.036,"n":1},{"x":0.93,"y":0.036,"n":2},{"x":0.97,"y":0.036,"n":1},{"x":1.0,"y":0.036,"n":2},{"x":1.04,"y":0.036,"n":1},{"x":1.08,"y":0.036,"n":1},{"x":1.11,"y":0.036,"n":2},{"x":1.16,"y":0.036,"n":1},{"x":1.2,"y":0.036,"n":1},{"x":1.24,"y":0.036,"n":1},{"x":1.3,"y":0.036,"n":1},{"x":1.36,"y":0.036,"n":1},{"x":1.42,"y":0.036,"n":1},{"x":1.5,"y":0.036,"n":1},{"x":1.56,"y":0.036,"n":1},{"x":1.62,"y":0.036,"n":1},{"x":1.7,"y":0.036,"n":1},{"x":1.78,"y":0.036,"n":2},{"x":1.85,"y":0.036,"n":1},{"x":1.92,"y":0.036,"n":1},{"x":2.0,"y":0.037,"n":2},{"x":2.05,"y":0.037,"n":1},{"x":2.12,"y":0.037,"n":1},{"x":2.17,"y":0.037,"n":1},{"x":2.24,"y":0.037,"n":1},{"x":2.3,"y":0.037,"n":2},{"x":2.38,"y":0.037,"n":2},{"x":2.46,"y":0.037,"n":1},{"x":2.52,"y":0.037,"n":2},{"x":2.6,"y":0.037,"n":1},{"x":2.66,"y":0.037,"n":1},{"x":2.72,"y":0.037,"n":1},{"x":2.78,"y":0.037,"n":1},{"x":2.88,"y":0.033,"n":1},{"x":0.78,"y":0.031,"n":1},{"x":0.82,"y":0.031,"n":1},{"x":0.87,"y":0.031,"n":3},{"x":0.91,"y":0.031,"n":1},{"x":0.94,"y":0.031,"n":4},{"x":0.98,"y":0.031,"n":2},{"x":1.01,"y":0.031,"n":3},{"x":1.05,"y":0.031,"n":2},{"x":1.09,"y":0.031,"n":3},{"x":1.13,"y":0.031,"n":4},{"x":1.18,"y":0.031,"n":1},{"x":1.22,"y":0.031,"n":1},{"x":1.28,"y":0.031,"n":1},{"x":1.33,"y":0.031,"n":1},{"x":1.4,"y":0.031,"n":1},{"x":1.47,"y":0.031,"n":1},{"x":1.54,"y":0.031,"n":1},{"x":1.6,"y":0.031,"n":1},{"x":1.66,"y":0.031,"n":1},{"x":1.72,"y":0.031,"n":1},{"x":1.8,"y":0.031,"n":1},{"x":1.86,"y":0.031,"n":1},{"x":1.92,"y":0.031,"n":2},{"x":1.97,"y":0.031,"n":1},{"x":2.03,"y":0.033,"n":1},{"x":2.1,"y":0.033,"n":2},{"x":2.16,"y":0.033,"n":2},{"x":2.22,"y":0.033,"n":1},{"x":2.28,"y":0.033,"n":3},{"x":2.34,"y":0.033,"n":1},{"x":2.42,"y":0.033,"n":2},{"x":2.48,"y":0.033,"n":3},{"x":2.56,"y":0.033,"n":2},{"x":2.64,"y":0.033,"n":1},{"x":2.7,"y":0.033,"n":1},{"x":2.76,"y":0.033,"n":1},{"x":0.74,"y":0.027,"n":2},{"x":0.78,"y":0.027,"n":2},{"x":0.84,"y":0.027,"n":3},{"x":0.88,"y":0.027,"n":2},{"x":0.92,"y":0.027,"n":3},{"x":0.96,"y":0.027,"n":4},{"x":1.0,"y":0.027,"n":3},{"x":1.03,"y":0.027,"n":3},{"x":1.07,"y":0.027,"n":2},{"x":1.1,"y":0.027,"n":2},{"x":1.14,"y":0.027,"n":2},{"x":1.2,"y":0.027,"n":1},{"x":1.25,"y":0.027,"n":2},{"x":1.3,"y":0.027,"n":2},{"x":1.36,"y":0.027,"n":1},{"x":1.44,"y":0.027,"n":1},{"x":1.5,"y":0.027,"n":1},{"x":1.58,"y":0.027,"n":1},{"x":1.64,"y":0.027,"n":1},{"x":1.72,"y":0.027,"n":2},{"x":1.78,"y":0.027,"n":1},{"x":1.84,"y":0.027,"n":2},{"x":1.9,"y":0.027,"n":1},{"x":1.96,"y":0.027,"n":1},{"x":2.02,"y":0.029,"n":1},{"x":2.08,"y":0.029,"n":1},{"x":2.14,"y":0.029,"n":1},{"x":2.2,"y":0.029,"n":1},{"x":2.26,"y":0.029,"n":2},{"x":2.34,"y":0.029,"n":4},{"x":2.4,"y":0.029,"n":2},{"x":2.46,"y":0.029,"n":2},{"x":2.52,"y":0.029,"n":2},{"x":2.58,"y":0.029,"n":1},{"x":2.66,"y":0.029,"n":2},{"x":2.74,"y":0.029,"n":1},{"x":2.78,"y":0.029,"n":1},{"x":0.68,"y":0.023,"n":1},{"x":0.71,"y":0.023,"n":1},{"x":0.75,"y":0.023,"n":1},{"x":0.8,"y":0.023,"n":3},{"x":0.85,"y":0.023,"n":3},{"x":0.9,"y":0.023,"n":2},{"x":0.94,"y":0.023,"n":2},{"x":0.98,"y":0.023,"n":3},{"x":1.02,"y":0.023,"n":4},{"x":1.05,"y":0.023,"n":3},{"x":1.09,"y":0.023,"n":2},{"x":1.13,"y":0.023,"n":1},{"x":1.16,"y":0.023,"n":1},{"x":1.22,"y":0.023,"n":2},{"x":1.27,"y":0.023,"n":1},{"x":1.33,"y":0.023,"n":2},{"x":1.41,"y":0.023,"n":1},{"x":1.47,"y":0.023,"n":1},{"x":1.53,"y":0.023,"n":1},{"x":1.6,"y":0.023,"n":1},{"x":1.68,"y":0.023,"n":1},{"x":1.74,"y":0.023,"n":1},{"x":1.8,"y":0.023,"n":2},{"x":1.88,"y":0.023,"n":1},{"x":1.94,"y":0.023,"n":1},{"x":2.0,"y":0.025,"n":1},{"x":2.06,"y":0.025,"n":1},{"x":2.13,"y":0.025,"n":2},{"x":2.2,"y":0.025,"n":1},{"x":2.26,"y":0.025,"n":3},{"x":2.32,"y":0.025,"n":2},{"x":2.38,"y":0.025,"n":1},{"x":2.44,"y":0.025,"n":2},{"x":2.5,"y":0.025,"n":3},{"x":2.56,"y":0.025,"n":2},{"x":2.62,"y":0.025,"n":1},{"x":2.68,"y":0.025,"n":1},{"x":2.76,"y":0.025,"n":1},{"x":2.8,"y":0.025,"n":1},{"x":0.66,"y":0.019,"n":1},{"x":0.7,"y":0.019,"n":1},{"x":0.74,"y":0.019,"n":3},{"x":0.77,"y":0.019,"n":2},{"x":0.82,"y":0.019,"n":4},{"x":0.87,"y":0.019,"n":1},{"x":0.9,"y":0.019,"n":1},{"x":0.95,"y":0.019,"n":2},{"x":0.99,"y":0.019,"n":4},{"x":1.03,"y":0.019,"n":2},{"x":1.08,"y":0.019,"n":2},{"x":1.13,"y":0.019,"n":2},{"x":1.18,"y":0.019,"n":1},{"x":1.25,"y":0.019,"n":1},{"x":1.3,"y":0.019,"n":4},{"x":1.34,"y":0.019,"n":3},{"x":1.38,"y":0.019,"n":4},{"x":1.44,"y":0.019,"n":3},{"x":1.5,"y":0.019,"n":2},{"x":1.56,"y":0.019,"n":1},{"x":1.63,"y":0.019,"n":1},{"x":1.7,"y":0.019,"n":1},{"x":1.76,"y":0.019,"n":1},{"x":1.84,"y":0.019,"n":2},{"x":1.92,"y":0.019,"n":1},{"x":2.0,"y":0.021,"n":1},{"x":2.05,"y":0.021,"n":3},{"x":2.12,"y":0.021,"n":1},{"x":2.18,"y":0.021,"n":1},{"x":2.24,"y":0.021,"n":2},{"x":2.3,"y":0.021,"n":3},{"x":2.36,"y":0.021,"n":1},{"x":2.42,"y":0.021,"n":1},{"x":2.48,"y":0.021,"n":3},{"x":2.52,"y":0.021,"n":2},{"x":2.6,"y":0.021,"n":2},{"x":2.66,"y":0.021,"n":1},{"x":2.7,"y":0.021,"n":1},{"x":2.75,"y":0.021,"n":1},{"x":2.85,"y":0.021,"n":1},{"x":0.68,"y":0.015,"n":1},{"x":0.72,"y":0.015,"n":1},{"x":0.75,"y":0.015,"n":3},{"x":0.79,"y":0.015,"n":3},{"x":0.84,"y":0.015,"n":1},{"x":0.88,"y":0.015,"n":1},{"x":0.92,"y":0.015,"n":2},{"x":0.96,"y":0.015,"n":2},{"x":1.0,"y":0.015,"n":1},{"x":1.04,"y":0.015,"n":2},{"x":1.07,"y":0.015,"n":2},{"x":1.12,"y":0.015,"n":2},{"x":1.18,"y":0.015,"n":2},{"x":1.24,"y":0.015,"n":1},{"x":1.29,"y":0.015,"n":1},{"x":1.34,"y":0.015,"n":3},{"x":1.39,"y":0.015,"n":2},{"x":1.43,"y":0.015,"n":5},{"x":1.46,"y":0.015,"n":4},{"x":1.51,"y":0.015,"n":2},{"x":1.56,"y":0.015,"n":1},{"x":1.62,"y":0.015,"n":2},{"x":1.68,"y":0.015,"n":2},{"x":1.75,"y":0.015,"n":2},{"x":1.82,"y":0.015,"n":1},{"x":1.9,"y":0.015,"n":1},{"x":2.03,"y":0.017,"n":2},{"x":2.1,"y":0.017,"n":1},{"x":2.16,"y":0.017,"n":2},{"x":2.22,"y":0.017,"n":2},{"x":2.28,"y":0.017,"n":1},{"x":2.34,"y":0.017,"n":2},{"x":2.4,"y":0.017,"n":1},{"x":2.46,"y":0.017,"n":2},{"x":2.54,"y":0.017,"n":1},{"x":2.6,"y":0.017,"n":1},{"x":2.66,"y":0.017,"n":1},{"x":2.72,"y":0.017,"n":1},{"x":2.78,"y":0.017,"n":1},{"x":0.6,"y":0.011,"n":1},{"x":0.66,"y":0.011,"n":1},{"x":0.7,"y":0.011,"n":2},{"x":0.74,"y":0.011,"n":4},{"x":0.78,"y":0.011,"n":2},{"x":0.83,"y":0.011,"n":2},{"x":0.87,"y":0.011,"n":1},{"x":0.92,"y":0.011,"n":1},{"x":0.96,"y":0.011,"n":2},{"x":1.0,"y":0.011,"n":1},{"x":1.05,"y":0.011,"n":1},{"x":1.1,"y":0.011,"n":1},{"x":1.14,"y":0.011,"n":2},{"x":1.2,"y":0.011,"n":2},{"x":1.27,"y":0.011,"n":1},{"x":1.33,"y":0.011,"n":1},{"x":1.4,"y":0.011,"n":2},{"x":1.46,"y":0.011,"n":1},{"x":1.5,"y":0.011,"n":2},{"x":1.58,"y":0.011,"n":1},{"x":1.65,"y":0.011,"n":1},{"x":1.72,"y":0.011,"n":1},{"x":1.8,"y":0.011,"n":1},{"x":1.88,"y":0.011,"n":2},{"x":1.94,"y":0.011,"n":1},{"x":2.05,"y":0.013,"n":4},{"x":2.12,"y":0.013,"n":1},{"x":2.18,"y":0.013,"n":2},{"x":2.24,"y":0.013,"n":3},{"x":2.3,"y":0.013,"n":2},{"x":2.36,"y":0.013,"n":3},{"x":2.42,"y":0.013,"n":2},{"x":2.48,"y":0.013,"n":1},{"x":2.56,"y":0.013,"n":1},{"x":2.64,"y":0.013,"n":1},{"x":2.7,"y":0.013,"n":1},{"x":2.76,"y":0.013,"n":1},{"x":2.8,"y":0.013,"n":1},{"x":0.6,"y":0.007,"n":2},{"x":0.63,"y":0.007,"n":4},{"x":0.66,"y":0.007,"n":3},{"x":0.7,"y":0.007,"n":3},{"x":0.74,"y":0.007,"n":5},{"x":0.78,"y":0.007,"n":2},{"x":0.82,"y":0.007,"n":1},{"x":0.87,"y":0.007,"n":1},{"x":0.92,"y":0.007,"n":1},{"x":0.97,"y":0.007,"n":1},{"x":1.05,"y":0.007,"n":1},{"x":1.12,"y":0.007,"n":1},{"x":1.18,"y":0.007,"n":1},{"x":1.24,"y":0.007,"n":1},{"x":1.3,"y":0.007,"n":3},{"x":1.36,"y":0.007,"n":2},{"x":1.44,"y":0.007,"n":2},{"x":1.5,"y":0.007,"n":1},{"x":1.56,"y":0.007,"n":1},{"x":1.62,"y":0.007,"n":1},{"x":1.68,"y":0.007,"n":1},{"x":1.74,"y":0.007,"n":1},{"x":1.8,"y":0.007,"n":1},{"x":1.86,"y":0.007,"n":2},{"x":1.92,"y":0.007,"n":1},{"x":1.98,"y":0.007,"n":1},{"x":2.0,"y":0.009,"n":1},{"x":2.08,"y":0.009,"n":1},{"x":2.14,"y":0.009,"n":2},{"x":2.2,"y":0.009,"n":2},{"x":2.26,"y":0.009,"n":2},{"x":2.32,"y":0.009,"n":1},{"x":2.38,"y":0.009,"n":3},{"x":2.44,"y":0.009,"n":1},{"x":2.5,"y":0.009,"n":1},{"x":2.58,"y":0.009,"n":1},{"x":2.62,"y":0.009,"n":1},{"x":2.7,"y":0.009,"n":2},{"x":2.74,"y":0.009,"n":1},{"x":0.59,"y":0.003,"n":1},{"x":0.63,"y":0.003,"n":3},{"x":0.67,"y":0.003,"n":3},{"x":0.7,"y":0.003,"n":3},{"x":0.74,"y":0.003,"n":2},{"x":0.77,"y":0.003,"n":3},{"x":0.81,"y":0.003,"n":1},{"x":1.07,"y":0.003,"n":1},{"x":1.14,"y":0.003,"n":1},{"x":1.22,"y":0.003,"n":1},{"x":1.29,"y":0.003,"n":2},{"x":1.34,"y":0.003,"n":2},{"x":1.4,"y":0.003,"n":1},{"x":1.45,"y":0.003,"n":2},{"x":1.52,"y":0.003,"n":1},{"x":1.6,"y":0.003,"n":1},{"x":1.66,"y":0.003,"n":2},{"x":1.72,"y":0.003,"n":1},{"x":1.78,"y":0.003,"n":2},{"x":1.84,"y":0.003,"n":1},{"x":1.9,"y":0.003,"n":1},{"x":1.96,"y":0.003,"n":2},{"x":2.02,"y":0.005,"n":2},{"x":2.1,"y":0.005,"n":1},{"x":2.16,"y":0.005,"n":1},{"x":2.24,"y":0.005,"n":1},{"x":2.3,"y":0.005,"n":3},{"x":2.36,"y":0.005,"n":3},{"x":2.42,"y":0.005,"n":1},{"x":2.48,"y":0.005,"n":3},{"x":2.55,"y":0.005,"n":1},{"x":2.6,"y":0.005,"n":1},{"x":2.66,"y":0.005,"n":1},{"x":2.72,"y":0.005,"n":1},{"x":2.78,"y":0.005,"n":1},{"x":0.57,"y":-0.001,"n":1},{"x":0.62,"y":-0.001,"n":3},{"x":0.66,"y":-0.001,"n":4},{"x":0.69,"y":-0.001,"n":3},{"x":0.73,"y":-0.001,"n":3},{"x":0.76,"y":-0.001,"n":1},{"x":0.85,"y":-0.001,"n":1},{"x":0.96,"y":-0.001,"n":1},{"x":1.05,"y":-0.001,"n":1},{"x":1.15,"y":-0.001,"n":1},{"x":1.26,"y":-0.001,"n":1},{"x":1.31,"y":-0.001,"n":2},{"x":1.35,"y":-0.001,"n":2},{"x":1.4,"y":-0.001,"n":1},{"x":1.46,"y":-0.001,"n":2},{"x":1.53,"y":-0.001,"n":1},{"x":1.58,"y":-0.001,"n":1},{"x":1.66,"y":-0.001,"n":1},{"x":1.72,"y":-0.001,"n":4},{"x":1.79,"y":-0.001,"n":2},{"x":1.85,"y":-0.001,"n":1},{"x":1.9,"y":-0.001,"n":1},{"x":1.95,"y":-0.001,"n":1},{"x":2.0,"y":0.001,"n":1},{"x":2.06,"y":0.001,"n":1},{"x":2.12,"y":0.001,"n":2},{"x":2.18,"y":0.001,"n":1},{"x":2.25,"y":0.001,"n":2},{"x":2.34,"y":0.001,"n":2},{"x":2.4,"y":0.001,"n":1},{"x":2.46,"y":0.001,"n":2},{"x":2.52,"y":0.001,"n":1},{"x":2.58,"y":0.001,"n":1},{"x":2.67,"y":0.001,"n":1},{"x":2.76,"y":0.001,"n":1},{"x":2.82,"y":0.001,"n":1},{"x":2.92,"y":0.001,"n":1},{"x":0.55,"y":-0.005,"n":1},{"x":0.59,"y":-0.005,"n":2},{"x":0.62,"y":-0.005,"n":3},{"x":0.66,"y":-0.005,"n":2},{"x":0.7,"y":-0.005,"n":1},{"x":0.74,"y":-0.005,"n":2},{"x":0.8,"y":-0.005,"n":1},{"x":0.92,"y":-0.005,"n":1},{"x":1.0,"y":-0.005,"n":1},{"x":1.08,"y":-0.005,"n":1},{"x":1.18,"y":-0.005,"n":1},{"x":1.28,"y":-0.005,"n":1},{"x":1.34,"y":-0.005,"n":2},{"x":1.4,"y":-0.005,"n":1},{"x":1.45,"y":-0.005,"n":1},{"x":1.5,"y":-0.005,"n":2},{"x":1.56,"y":-0.005,"n":1},{"x":1.62,"y":-0.005,"n":1},{"x":1.68,"y":-0.005,"n":2},{"x":1.74,"y":-0.005,"n":1},{"x":1.8,"y":-0.005,"n":2},{"x":1.86,"y":-0.005,"n":1},{"x":1.92,"y":-0.005,"n":2},{"x":2.0,"y":-0.003,"n":2},{"x":2.04,"y":-0.003,"n":1},{"x":2.1,"y":-0.003,"n":2},{"x":2.16,"y":-0.003,"n":2},{"x":2.22,"y":-0.003,"n":1},{"x":2.28,"y":-0.003,"n":2},{"x":2.33,"y":-0.003,"n":3},{"x":2.38,"y":-0.003,"n":1},{"x":2.44,"y":-0.003,"n":4},{"x":2.5,"y":-0.003,"n":3},{"x":2.56,"y":-0.003,"n":1},{"x":2.62,"y":-0.003,"n":1},{"x":2.74,"y":-0.003,"n":1},{"x":0.54,"y":-0.009,"n":1},{"x":0.58,"y":-0.009,"n":1},{"x":0.62,"y":-0.009,"n":2},{"x":0.66,"y":-0.009,"n":3},{"x":0.7,"y":-0.009,"n":1},{"x":0.74,"y":-0.009,"n":1},{"x":0.85,"y":-0.009,"n":1},{"x":1.1,"y":-0.009,"n":1},{"x":1.17,"y":-0.009,"n":1},{"x":1.25,"y":-0.009,"n":1},{"x":1.32,"y":-0.009,"n":1},{"x":1.38,"y":-0.009,"n":2},{"x":1.44,"y":-0.009,"n":1},{"x":1.48,"y":-0.009,"n":1},{"x":1.55,"y":-0.009,"n":1},{"x":1.62,"y":-0.009,"n":2},{"x":1.7,"y":-0.009,"n":1},{"x":1.76,"y":-0.009,"n":1},{"x":1.84,"y":-0.009,"n":1},{"x":1.9,"y":-0.009,"n":2},{"x":1.96,"y":-0.009,"n":1},{"x":1.98,"y":-0.007,"n":2},{"x":2.03,"y":-0.007,"n":4},{"x":2.09,"y":-0.007,"n":3},{"x":2.14,"y":-0.007,"n":1},{"x":2.2,"y":-0.007,"n":2},{"x":2.28,"y":-0.007,"n":2},{"x":2.36,"y":-0.007,"n":1},{"x":2.42,"y":-0.007,"n":1},{"x":2.48,"y":-0.007,"n":2},{"x":2.55,"y":-0.007,"n":1},{"x":2.62,"y":-0.007,"n":1},{"x":2.7,"y":-0.007,"n":1},{"x":2.75,"y":-0.007,"n":1},{"x":2.97,"y":-0.007,"n":1},{"x":3.11,"y":-0.006,"n":1},{"x":0.56,"y":-0.013,"n":1},{"x":0.6,"y":-0.013,"n":2},{"x":0.64,"y":-0.013,"n":3},{"x":0.68,"y":-0.013,"n":1},{"x":0.72,"y":-0.013,"n":1},{"x":0.9,"y":-0.013,"n":1},{"x":1.07,"y":-0.013,"n":1},{"x":1.16,"y":-0.013,"n":1},{"x":1.22,"y":-0.013,"n":1},{"x":1.3,"y":-0.013,"n":1},{"x":1.4,"y":-0.013,"n":2},{"x":1.46,"y":-0.013,"n":3},{"x":1.53,"y":-0.013,"n":1},{"x":1.6,"y":-0.013,"n":2},{"x":1.66,"y":-0.013,"n":3},{"x":1.72,"y":-0.013,"n":1},{"x":1.78,"y":-0.013,"n":1},{"x":1.84,"y":-0.013,"n":2},{"x":1.9,"y":-0.013,"n":1},{"x":1.96,"y":-0.013,"n":3},{"x":2.02,"y":-0.011,"n":1},{"x":2.06,"y":-0.011,"n":1},{"x":2.1,"y":-0.011,"n":1},{"x":2.16,"y":-0.011,"n":2},{"x":2.22,"y":-0.011,"n":3},{"x":2.3,"y":-0.011,"n":3},{"x":2.36,"y":-0.011,"n":1},{"x":2.44,"y":-0.011,"n":1},{"x":2.5,"y":-0.011,"n":2},{"x":2.57,"y":-0.011,"n":4},{"x":2.6,"y":-0.011,"n":4},{"x":2.64,"y":-0.011,"n":1},{"x":2.72,"y":-0.011,"n":1},{"x":2.82,"y":-0.011,"n":1},{"x":0.54,"y":-0.017,"n":1},{"x":0.58,"y":-0.017,"n":2},{"x":0.62,"y":-0.017,"n":2},{"x":0.65,"y":-0.017,"n":2},{"x":0.7,"y":-0.017,"n":1},{"x":1.03,"y":-0.017,"n":1},{"x":1.1,"y":-0.017,"n":1},{"x":1.18,"y":-0.017,"n":1},{"x":1.25,"y":-0.017,"n":1},{"x":1.36,"y":-0.017,"n":1},{"x":1.42,"y":-0.017,"n":2},{"x":1.48,"y":-0.017,"n":1},{"x":1.55,"y":-0.017,"n":3},{"x":1.6,"y":-0.017,"n":1},{"x":1.66,"y":-0.017,"n":1},{"x":1.74,"y":-0.017,"n":2},{"x":1.8,"y":-0.017,"n":1},{"x":1.85,"y":-0.017,"n":3},{"x":1.92,"y":-0.017,"n":1},{"x":1.98,"y":-0.017,"n":1},{"x":2.02,"y":-0.015,"n":1},{"x":2.06,"y":-0.015,"n":1},{"x":2.1,"y":-0.015,"n":1},{"x":2.14,"y":-0.015,"n":1},{"x":2.2,"y":-0.015,"n":2},{"x":2.27,"y":-0.015,"n":3},{"x":2.34,"y":-0.015,"n":2},{"x":2.4,"y":-0.015,"n":1},{"x":2.46,"y":-0.015,"n":1},{"x":2.52,"y":-0.015,"n":2},{"x":2.58,"y":-0.015,"n":1},{"x":2.64,"y":-0.015,"n":1},{"x":2.78,"y":-0.015,"n":1},{"x":0.55,"y":-0.021,"n":1},{"x":0.59,"y":-0.021,"n":2},{"x":0.63,"y":-0.021,"n":2},{"x":0.67,"y":-0.021,"n":1},{"x":1.02,"y":-0.021,"n":1},{"x":1.14,"y":-0.021,"n":1},{"x":1.28,"y":-0.021,"n":1},{"x":1.34,"y":-0.021,"n":1},{"x":1.44,"y":-0.021,"n":1},{"x":1.5,"y":-0.021,"n":1},{"x":1.58,"y":-0.021,"n":2},{"x":1.64,"y":-0.021,"n":1},{"x":1.7,"y":-0.021,"n":1},{"x":1.78,"y":-0.021,"n":1},{"x":1.82,"y":-0.021,"n":3},{"x":1.88,"y":-0.021,"n":3},{"x":1.94,"y":-0.021,"n":1},{"x":2.0,"y":-0.019,"n":1},{"x":2.04,"y":-0.019,"n":1},{"x":2.08,"y":-0.019,"n":1},{"x":2.13,"y":-0.019,"n":1},{"x":2.18,"y":-0.019,"n":3},{"x":2.24,"y":-0.019,"n":2},{"x":2.3,"y":-0.019,"n":3},{"x":2.38,"y":-0.019,"n":1},{"x":2.42,"y":-0.019,"n":1},{"x":2.5,"y":-0.019,"n":1},{"x":2.56,"y":-0.019,"n":2},{"x":2.62,"y":-0.019,"n":1},{"x":2.72,"y":-0.019,"n":1},{"x":2.8,"y":-0.019,"n":1},{"x":0.5,"y":-0.025,"n":2},{"x":0.54,"y":-0.026,"n":6},{"x":0.58,"y":-0.025,"n":2},{"x":0.62,"y":-0.025,"n":1},{"x":0.68,"y":-0.025,"n":1},{"x":0.39,"y":-0.024,"n":2},{"x":1.18,"y":-0.025,"n":1},{"x":1.24,"y":-0.025,"n":1},{"x":1.3,"y":-0.025,"n":1},{"x":1.48,"y":-0.025,"n":1},{"x":1.56,"y":-0.025,"n":1},{"x":1.63,"y":-0.025,"n":1},{"x":1.7,"y":-0.025,"n":2},{"x":1.76,"y":-0.025,"n":1},{"x":1.84,"y":-0.025,"n":2},{"x":1.9,"y":-0.025,"n":1},{"x":1.96,"y":-0.025,"n":1},{"x":2.02,"y":-0.023,"n":1},{"x":2.07,"y":-0.023,"n":1},{"x":2.12,"y":-0.023,"n":2},{"x":2.2,"y":-0.023,"n":3},{"x":2.26,"y":-0.023,"n":2},{"x":2.32,"y":-0.023,"n":3},{"x":2.38,"y":-0.023,"n":1},{"x":2.44,"y":-0.023,"n":1},{"x":2.5,"y":-0.023,"n":1},{"x":2.58,"y":-0.023,"n":1},{"x":2.62,"y":-0.023,"n":1},{"x":2.7,"y":-0.023,"n":1},{"x":0.5,"y":-0.029,"n":1},{"x":0.57,"y":-0.029,"n":3},{"x":0.61,"y":-0.029,"n":5},{"x":0.64,"y":-0.029,"n":1},{"x":1.27,"y":-0.029,"n":1},{"x":1.34,"y":-0.029,"n":1},{"x":1.52,"y":-0.029,"n":1},{"x":1.58,"y":-0.029,"n":1},{"x":1.66,"y":-0.029,"n":1},{"x":1.74,"y":-0.029,"n":1},{"x":1.8,"y":-0.029,"n":2},{"x":1.86,"y":-0.029,"n":1},{"x":1.92,"y":-0.029,"n":2},{"x":1.98,"y":-0.029,"n":1},{"x":2.05,"y":-0.027,"n":3},{"x":2.12,"y":-0.027,"n":4},{"x":2.18,"y":-0.027,"n":3},{"x":2.25,"y":-0.027,"n":2},{"x":2.3,"y":-0.027,"n":2},{"x":2.36,"y":-0.027,"n":1},{"x":2.4,"y":-0.027,"n":1},{"x":2.46,"y":-0.027,"n":1},{"x":2.52,"y":-0.027,"n":2},{"x":2.6,"y":-0.027,"n":1},{"x":2.66,"y":-0.027,"n":1},{"x":2.76,"y":-0.027,"n":1},{"x":2.8,"y":-0.027,"n":1},{"x":0.47,"y":-0.033,"n":1},{"x":0.52,"y":-0.033,"n":2},{"x":0.56,"y":-0.033,"n":4},{"x":0.6,"y":-0.033,"n":2},{"x":0.67,"y":-0.032,"n":1},{"x":1.48,"y":-0.033,"n":1},{"x":1.55,"y":-0.033,"n":1},{"x":1.6,"y":-0.033,"n":2},{"x":1.68,"y":-0.033,"n":1},{"x":1.76,"y":-0.033,"n":1},{"x":1.82,"y":-0.033,"n":1},{"x":1.9,"y":-0.033,"n":1},{"x":1.96,"y":-0.033,"n":1},{"x":2.03,"y":-0.031,"n":4},{"x":2.1,"y":-0.031,"n":5},{"x":2.16,"y":-0.031,"n":3},{"x":2.22,"y":-0.031,"n":1},{"x":2.28,"y":-0.031,"n":2},{"x":2.33,"y":-0.031,"n":1},{"x":2.37,"y":-0.031,"n":1},{"x":2.43,"y":-0.031,"n":1},{"x":2.5,"y":-0.031,"n":2},{"x":2.57,"y":-0.031,"n":1},{"x":2.63,"y":-0.031,"n":1},{"x":2.76,"y":-0.031,"n":1},{"x":0.47,"y":-0.037,"n":1},{"x":0.5,"y":-0.037,"n":2},{"x":0.54,"y":-0.037,"n":3},{"x":0.48,"y":-0.037,"n":6},{"x":0.58,"y":-0.037,"n":2},{"x":0.6,"y":-0.037,"n":3},{"x":1.5,"y":-0.037,"n":1},{"x":1.62,"y":-0.037,"n":1},{"x":1.7,"y":-0.037,"n":1},{"x":1.78,"y":-0.037,"n":2},{"x":1.86,"y":-0.037,"n":1},{"x":1.94,"y":-0.037,"n":2},{"x":2.0,"y":-0.035,"n":3},{"x":2.06,"y":-0.035,"n":1},{"x":2.12,"y":-0.035,"n":2},{"x":2.18,"y":-0.035,"n":1},{"x":2.26,"y":-0.035,"n":3},{"x":2.32,"y":-0.035,"n":1},{"x":2.38,"y":-0.035,"n":1},{"x":2.42,"y":-0.035,"n":1},{"x":2.48,"y":-0.035,"n":2},{"x":2.55,"y":-0.035,"n":1},{"x":2.66,"y":-0.035,"n":1},{"x":2.74,"y":-0.035,"n":1},{"x":2.8,"y":-0.035,"n":1},{"x":0.47,"y":-0.041,"n":1},{"x":0.51,"y":-0.041,"n":2},{"x":0.54,"y":-0.041,"n":5},{"x":0.58,"y":-0.041,"n":1},{"x":1.42,"y":-0.041,"n":1},{"x":1.52,"y":-0.041,"n":1},{"x":1.64,"y":-0.041,"n":1},{"x":1.74,"y":-0.041,"n":1},{"x":1.82,"y":-0.041,"n":1},{"x":1.88,"y":-0.041,"n":3},{"x":1.96,"y":-0.041,"n":1},{"x":2.03,"y":-0.039,"n":3},{"x":2.08,"y":-0.039,"n":1},{"x":2.14,"y":-0.039,"n":2},{"x":2.2,"y":-0.039,"n":1},{"x":2.27,"y":-0.039,"n":1},{"x":2.34,"y":-0.039,"n":1},{"x":2.4,"y":-0.039,"n":1},{"x":2.46,"y":-0.039,"n":2},{"x":2.54,"y":-0.039,"n":2},{"x":2.6,"y":-0.039,"n":1},{"x":2.62,"y":-0.039,"n":1},{"x":2.72,"y":-0.039,"n":1},{"x":0.47,"y":-0.045,"n":1},{"x":0.5,"y":-0.045,"n":1},{"x":0.54,"y":-0.045,"n":1},{"x":0.57,"y":-0.045,"n":1},{"x":0.76,"y":-0.043,"n":1},{"x":1.44,"y":-0.045,"n":1},{"x":1.6,"y":-0.045,"n":1},{"x":1.66,"y":-0.045,"n":2},{"x":1.72,"y":-0.045,"n":2},{"x":1.8,"y":-0.045,"n":1},{"x":1.85,"y":-0.045,"n":1},{"x":1.92,"y":-0.045,"n":1},{"x":1.98,"y":-0.043,"n":2},{"x":2.0,"y":-0.043,"n":1},{"x":2.07,"y":-0.043,"n":1},{"x":2.13,"y":-0.043,"n":1},{"x":2.18,"y":-0.043,"n":1},{"x":2.24,"y":-0.043,"n":2},{"x":2.32,"y":-0.043,"n":2},{"x":2.38,"y":-0.043,"n":1},{"x":2.44,"y":-0.043,"n":1},{"x":2.5,"y":-0.043,"n":1},{"x":2.6,"y":-0.043,"n":1},{"x":2.65,"y":-0.043,"n":1},{"x":2.7,"y":-0.043,"n":1},{"x":2.75,"y":-0.043,"n":1},{"x":0.38,"y":-0.049,"n":1},{"x":0.42,"y":-0.049,"n":1},{"x":0.48,"y":-0.049,"n":1},{"x":0.52,"y":-0.049,"n":1},{"x":0.56,"y":-0.049,"n":1},{"x":1.62,"y":-0.049,"n":1},{"x":1.74,"y":-0.049,"n":1},{"x":1.82,"y":-0.049,"n":2},{"x":1.88,"y":-0.049,"n":1},{"x":1.94,"y":-0.049,"n":1},{"x":1.96,"y":-0.047,"n":1},{"x":2.0,"y":-0.047,"n":2},{"x":2.06,"y":-0.047,"n":1},{"x":2.1,"y":-0.047,"n":2},{"x":2.18,"y":-0.047,"n":1},{"x":2.26,"y":-0.047,"n":1},{"x":2.3,"y":-0.047,"n":1},{"x":2.4,"y":-0.047,"n":2},{"x":2.46,"y":-0.047,"n":1},{"x":2.56,"y":-0.047,"n":1},{"x":2.66,"y":-0.047,"n":1},{"x":2.72,"y":-0.047,"n":1},{"x":2.77,"y":-0.047,"n":1},{"x":2.83,"y":-0.047,"n":1},{"x":0.34,"y":-0.051,"n":1},{"x":0.365,"y":-0.051,"n":1},{"x":0.43,"y":-0.051,"n":1},{"x":0.44,"y":-0.053,"n":1},{"x":0.48,"y":-0.053,"n":2},{"x":0.53,"y":-0.053,"n":1},{"x":1.56,"y":-0.053,"n":1},{"x":1.68,"y":-0.053,"n":1},{"x":1.75,"y":-0.053,"n":2},{"x":1.82,"y":-0.053,"n":1},{"x":1.9,"y":-0.053,"n":1},{"x":1.96,"y":-0.053,"n":2},{"x":2.05,"y":-0.051,"n":2},{"x":2.12,"y":-0.051,"n":3},{"x":2.18,"y":-0.051,"n":2},{"x":2.22,"y":-0.051,"n":1},{"x":2.3,"y":-0.051,"n":2},{"x":2.36,"y":-0.051,"n":2},{"x":2.42,"y":-0.051,"n":1},{"x":2.48,"y":-0.051,"n":2},{"x":2.55,"y":-0.051,"n":3},{"x":2.64,"y":-0.051,"n":1},{"x":2.8,"y":-0.051,"n":1},{"x":0.41,"y":-0.057,"n":1},{"x":0.375,"y":-0.057,"n":2},{"x":0.45,"y":-0.057,"n":1},{"x":0.5,"y":-0.057,"n":1},{"x":0.53,"y":-0.057,"n":1},{"x":1.31,"y":-0.057,"n":1},{"x":1.7,"y":-0.057,"n":1},{"x":1.78,"y":-0.057,"n":1},{"x":1.86,"y":-0.057,"n":1},{"x":1.9,"y":-0.057,"n":1},{"x":1.94,"y":-0.057,"n":1},{"x":1.98,"y":-0.055,"n":1},{"x":2.03,"y":-0.055,"n":1},{"x":2.1,"y":-0.055,"n":1},{"x":2.17,"y":-0.055,"n":1},{"x":2.24,"y":-0.055,"n":1},{"x":2.28,"y":-0.055,"n":1},{"x":2.32,"y":-0.055,"n":1},{"x":2.4,"y":-0.055,"n":1},{"x":2.5,"y":-0.055,"n":1},{"x":2.56,"y":-0.055,"n":1},{"x":2.62,"y":-0.055,"n":1},{"x":2.7,"y":-0.055,"n":1},{"x":2.85,"y":-0.055,"n":1},{"x":0.345,"y":-0.061,"n":1},{"x":0.43,"y":-0.061,"n":3},{"x":0.45,"y":-0.061,"n":1},{"x":1.26,"y":-0.061,"n":1},{"x":1.74,"y":-0.061,"n":1},{"x":1.82,"y":-0.061,"n":1},{"x":1.92,"y":-0.059,"n":1},{"x":2.0,"y":-0.059,"n":1},{"x":2.07,"y":-0.059,"n":1},{"x":2.16,"y":-0.059,"n":1},{"x":2.22,"y":-0.059,"n":1},{"x":2.28,"y":-0.059,"n":2},{"x":2.36,"y":-0.059,"n":1},{"x":2.44,"y":-0.059,"n":3},{"x":2.5,"y":-0.059,"n":1},{"x":2.58,"y":-0.059,"n":1},{"x":2.66,"y":-0.059,"n":1},{"x":1.88,"y":-0.063,"n":1},{"x":1.94,"y":-0.063,"n":1},{"x":2.03,"y":-0.063,"n":1},{"x":2.12,"y":-0.063,"n":1},{"x":2.2,"y":-0.063,"n":1},{"x":2.26,"y":-0.063,"n":1},{"x":2.32,"y":-0.063,"n":1},{"x":2.4,"y":-0.063,"n":1},{"x":2.5,"y":-0.063,"n":2},{"x":2.62,"y":-0.063,"n":1},{"x":2.72,"y":-0.063,"n":1},{"x":2.88,"y":-0.063,"n":1},{"x":0.33,"y":-0.067,"n":2},{"x":0.447,"y":-0.067,"n":1},{"x":1.97,"y":-0.067,"n":1},{"x":2.03,"y":-0.067,"n":1},{"x":2.1,"y":-0.067,"n":2},{"x":2.2,"y":-0.067,"n":2},{"x":2.26,"y":-0.067,"n":1},{"x":2.3,"y":-0.067,"n":2},{"x":2.34,"y":-0.067,"n":2},{"x":2.44,"y":-0.067,"n":1},{"x":2.56,"y":-0.067,"n":1},{"x":2.7,"y":-0.067,"n":1},{"x":0.36,"y":-0.071,"n":1},{"x":0.4,"y":-0.072,"n":1},{"x":1.7,"y":-0.071,"n":1},{"x":1.76,"y":-0.071,"n":1},{"x":1.83,"y":-0.071,"n":2},{"x":1.9,"y":-0.071,"n":1},{"x":2.0,"y":-0.071,"n":1},{"x":2.08,"y":-0.071,"n":1},{"x":2.16,"y":-0.071,"n":1},{"x":2.22,"y":-0.071,"n":1},{"x":2.28,"y":-0.071,"n":1},{"x":2.42,"y":-0.071,"n":1},{"x":2.5,"y":-0.071,"n":1},{"x":2.65,"y":-0.071,"n":1},{"x":2.75,"y":-0.071,"n":1},{"x":0.36,"y":-0.075,"n":1},{"x":1.72,"y":-0.075,"n":1},{"x":1.84,"y":-0.075,"n":1},{"x":1.94,"y":-0.075,"n":1},{"x":2.0,"y":-0.075,"n":1},{"x":2.08,"y":-0.075,"n":1},{"x":2.2,"y":-0.075,"n":1},{"x":2.3,"y":-0.075,"n":1},{"x":2.39,"y":-0.075,"n":1},{"x":2.46,"y":-0.075,"n":1},{"x":2.52,"y":-0.075,"n":1},{"x":2.73,"y":-0.075,"n":1},{"x":2.78,"y":-0.075,"n":1},{"x":0.375,"y":-0.077,"n":1},{"x":0.32,"y":-0.077,"n":2},{"x":0.545,"y":-0.077,"n":1},{"x":1.44,"y":-0.08,"n":1},{"x":1.7,"y":-0.079,"n":1},{"x":1.76,"y":-0.079,"n":1},{"x":1.92,"y":-0.079,"n":2},{"x":2.03,"y":-0.079,"n":1},{"x":2.12,"y":-0.079,"n":1},{"x":2.22,"y":-0.079,"n":1},{"x":2.28,"y":-0.079,"n":1},{"x":2.32,"y":-0.079,"n":1},{"x":2.36,"y":-0.079,"n":1},{"x":2.44,"y":-0.079,"n":1},{"x":2.6,"y":-0.079,"n":1},{"x":2.73,"y":-0.079,"n":1},{"x":3.04,"y":-0.079,"n":1},{"x":2.92,"y":-0.081,"n":1},{"x":2.98,"y":-0.075,"n":1},{"x":0.33,"y":-0.083,"n":1},{"x":1.85,"y":-0.083,"n":1},{"x":2.03,"y":-0.083,"n":1},{"x":2.14,"y":-0.083,"n":1},{"x":2.22,"y":-0.083,"n":1},{"x":2.34,"y":-0.083,"n":1},{"x":2.46,"y":-0.083,"n":1},{"x":2.52,"y":-0.083,"n":1},{"x":2.64,"y":-0.083,"n":1},{"x":2.9,"y":-0.083,"n":1},{"x":1.8,"y":-0.087,"n":1},{"x":1.88,"y":-0.087,"n":1},{"x":1.98,"y":-0.087,"n":1},{"x":2.04,"y":-0.087,"n":1},{"x":2.1,"y":-0.087,"n":1},{"x":2.18,"y":-0.087,"n":1},{"x":2.25,"y":-0.087,"n":1},{"x":2.3,"y":-0.087,"n":1},{"x":2.38,"y":-0.087,"n":1},{"x":2.5,"y":-0.087,"n":1},{"x":2.64,"y":-0.087,"n":2},{"x":2.76,"y":-0.087,"n":1},{"x":2.8,"y":-0.087,"n":1},{"x":1.86,"y":-0.091,"n":1},{"x":2.0,"y":-0.091,"n":1},{"x":2.15,"y":-0.091,"n":1},{"x":2.32,"y":-0.091,"n":1},{"x":2.42,"y":-0.091,"n":1},{"x":2.52,"y":-0.091,"n":1},{"x":2.62,"y":-0.091,"n":1},{"x":1.95,"y":-0.095,"n":1},{"x":2.02,"y":-0.095,"n":1},{"x":2.08,"y":-0.095,"n":1},{"x":2.12,"y":-0.095,"n":1},{"x":2.22,"y":-0.095,"n":1},{"x":2.34,"y":-0.095,"n":1},{"x":2.45,"y":-0.095,"n":1},{"x":1.98,"y":-0.097,"n":1},{"x":2.0,"y":-0.097,"n":1},{"x":2.24,"y":-0.097,"n":1},{"x":2.38,"y":-0.097,"n":1},{"x":2.44,"y":-0.097,"n":1},{"x":2.52,"y":-0.097,"n":1},{"x":2.74,"y":-0.097,"n":2},{"x":2.28,"y":-0.1,"n":1},{"x":2.34,"y":-0.1,"n":1},{"x":1.88,"y":-0.103,"n":1},{"x":2.05,"y":-0.103,"n":1},{"x":2.32,"y":-0.103,"n":1},{"x":2.34,"y":-0.103,"n":1},{"x":2.36,"y":-0.103,"n":1},{"x":1.91,"y":-0.109,"n":1},{"x":2.24,"y":-0.109,"n":1},{"x":2.95,"y":-0.109,"n":1}]},"mark":{"type":"point","shape":"M0,-0.9L1,-0.45L1,0.45L0,0.9L-1,0.45L-1,-0.45Z","filled":true,"size":72,"opacity":1,"clip":true},"encoding":{"x":{"field":"x","type":"quantitative","scale":{"domain":[0.31,3.139],"nice":false,"zero":false},"axis":{"values":[1,2,3],"format":"d","title":"(g−i)","titleFontStyle":"italic","titleX":244,"titleY":76,"titleAlign":"center","titleBaseline":"alphabetic"}},"y":{"field":"y","type":"quantitative","scale":{"domain":[-0.1103,0.1132],"nice":false,"zero":false},"axis":{"values":[-0.1,-0.05,0,0.05,0.1],"format":".2f","title":"residuals [mag]"}},"color":{"field":"n","type":"quantitative","scale":{"type":"log","scheme":"inferno","domain":[1,7]},"legend":{"title":null,"values":[1,2,3,4,6],"labelExpr":"datum.value==1?'10⁰':datum.value+' × 10⁰'","encode":{"labels":{"update":{"baseline":{"value":"middle"}}}}}}}},{"data":{"values":[{"label":"LSST"}]},"mark":{"type":"text","fontSize":23,"fontStyle":"italic","align":"left","baseline":"alphabetic","clip":false},"encoding":{"x":{"datum":1.764},"y":{"datum":-0.1592},"text":{"field":"label"}}},{"data":{"values":[{"label":"log10(N)"}]},"mark":{"type":"text","fontSize":33.4,"angle":270,"align":"center","baseline":"middle","clip":false},"encoding":{"x":{"datum":4.165},"y":{"datum":0.00145},"text":{"field":"label"}}}]}]}
